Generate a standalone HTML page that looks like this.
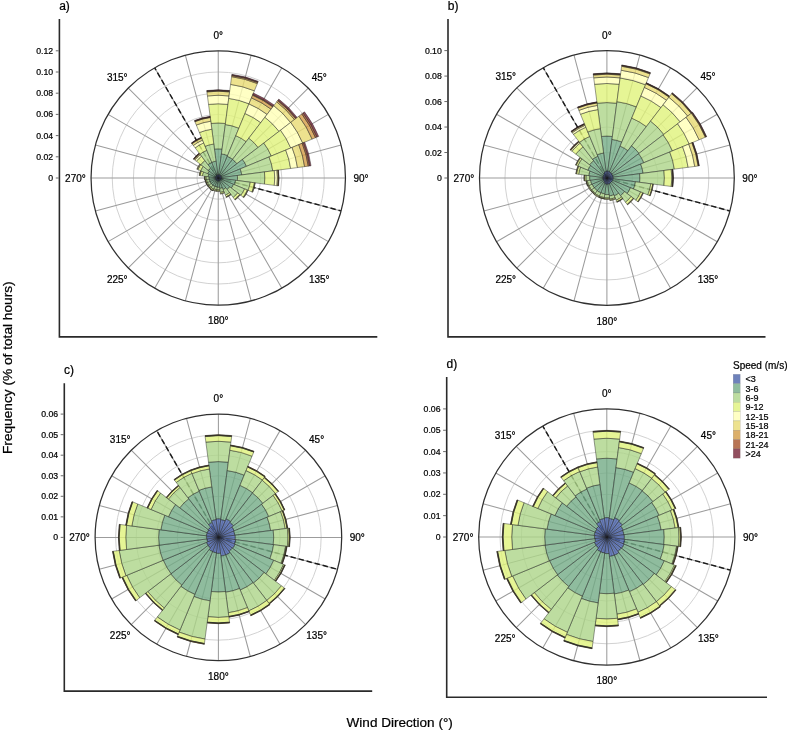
<!DOCTYPE html><html><head><meta charset="utf-8"><title>Wind roses</title>
<style>html,body{margin:0;padding:0;background:#fff}svg{display:block;will-change:transform}text{font-family:"Liberation Sans",sans-serif;fill:#000;stroke:#000;stroke-width:0.22px}</style></head><body>
<svg width="789" height="732" viewBox="0 0 789 732">
<rect width="789" height="732" fill="#fff"/>
<g>
<circle cx="218.25" cy="178.0" r="21.20" fill="none" stroke="#d2d2d2" stroke-width="1.0"/>
<circle cx="218.25" cy="178.0" r="42.40" fill="none" stroke="#d2d2d2" stroke-width="1.0"/>
<circle cx="218.25" cy="178.0" r="63.60" fill="none" stroke="#d2d2d2" stroke-width="1.0"/>
<circle cx="218.25" cy="178.0" r="84.80" fill="none" stroke="#d2d2d2" stroke-width="1.0"/>
<circle cx="218.25" cy="178.0" r="106.00" fill="none" stroke="#d2d2d2" stroke-width="1.0"/>
<path d="M218.25,178.0L218.25,50.80M218.25,178.0L251.17,55.13M218.25,178.0L281.85,67.84M218.25,178.0L308.19,88.06M218.25,178.0L328.41,114.40M218.25,178.0L341.12,145.08M218.25,178.0L345.45,178.00M218.25,178.0L341.12,210.92M218.25,178.0L328.41,241.60M218.25,178.0L308.19,267.94M218.25,178.0L281.85,288.16M218.25,178.0L251.17,300.87M218.25,178.0L218.25,305.20M218.25,178.0L185.33,300.87M218.25,178.0L154.65,288.16M218.25,178.0L128.31,267.94M218.25,178.0L108.09,241.60M218.25,178.0L95.38,210.92M218.25,178.0L91.05,178.00M218.25,178.0L95.38,145.08M218.25,178.0L108.09,114.40M218.25,178.0L128.31,88.06M218.25,178.0L154.65,67.84M218.25,178.0L185.33,55.13" stroke="#9c9c9c" stroke-width="1.05" fill="none"/>
<line x1="218.25" y1="178.0" x2="154.65" y2="67.84" stroke="#1a1a1a" stroke-width="1.45" stroke-dasharray="5.4,2.9"/>
<line x1="218.25" y1="178.0" x2="341.12" y2="210.92" stroke="#1a1a1a" stroke-width="1.45" stroke-dasharray="5.4,2.9"/>
<g stroke="#1c1c1c" stroke-opacity="0.7" stroke-width="0.62" stroke-linejoin="miter" fill-opacity="0.8">
<path d="M218.25,178.00L217.81,174.63A3.40,3.40 0 0 1 218.69,174.63Z" fill="#4a63aa"/>
<path d="M214.45,149.15A29.10,29.10 0 0 1 222.05,149.15L218.69,174.63A3.40,3.40 0 0 0 217.81,174.63Z" fill="#73ab86"/>
<path d="M211.07,123.47A55.00,55.00 0 0 1 225.43,123.47L222.05,149.15A29.10,29.10 0 0 0 214.45,149.15Z" fill="#acd488"/>
<path d="M208.56,104.43A74.20,74.20 0 0 1 227.94,104.43L225.43,123.47A55.00,55.00 0 0 0 211.07,123.47Z" fill="#e0f27a"/>
<path d="M207.45,95.96A82.75,82.75 0 0 1 229.05,95.96L227.94,104.43A74.20,74.20 0 0 0 208.56,104.43Z" fill="#ffffb5"/>
<path d="M206.92,91.94A86.80,86.80 0 0 1 229.58,91.94L229.05,95.96A82.75,82.75 0 0 0 207.45,95.96Z" fill="#e8db72"/>
<path d="M206.86,91.45A87.30,87.30 0 0 1 229.64,91.45L229.58,91.94A86.80,86.80 0 0 0 206.92,91.94Z" fill="#d39b45"/>
<path d="M206.79,90.95A87.80,87.80 0 0 1 229.71,90.95L229.64,91.45A87.30,87.30 0 0 0 206.86,91.45Z" fill="#a6522a"/>
<path d="M206.74,90.55A88.20,88.20 0 0 1 229.76,90.55L229.71,90.95A87.80,87.80 0 0 0 206.79,90.95Z" fill="#772337"/>
<path d="M218.25,178.00L218.69,174.63A3.40,3.40 0 0 1 219.55,174.86Z" fill="#4a63aa"/>
<path d="M221.42,153.91A24.30,24.30 0 0 1 227.55,155.55L219.55,174.86A3.40,3.40 0 0 0 218.69,174.63Z" fill="#73ab86"/>
<path d="M225.29,124.56A53.90,53.90 0 0 1 238.88,128.20L227.55,155.55A24.30,24.30 0 0 0 221.42,153.91Z" fill="#acd488"/>
<path d="M228.73,98.39A80.30,80.30 0 0 1 248.98,103.81L238.88,128.20A53.90,53.90 0 0 0 225.29,124.56Z" fill="#e0f27a"/>
<path d="M230.57,84.41A94.40,94.40 0 0 1 254.38,90.79L248.98,103.81A80.30,80.30 0 0 0 228.73,98.39Z" fill="#ffffb5"/>
<path d="M231.59,76.67A102.20,102.20 0 0 1 257.36,83.58L254.38,90.79A94.40,94.40 0 0 0 230.57,84.41Z" fill="#e8db72"/>
<path d="M231.73,75.58A103.30,103.30 0 0 1 257.78,82.56L257.36,83.58A102.20,102.20 0 0 0 231.59,76.67Z" fill="#d39b45"/>
<path d="M231.81,74.99A103.90,103.90 0 0 1 258.01,82.01L257.78,82.56A103.30,103.30 0 0 0 231.73,75.58Z" fill="#a6522a"/>
<path d="M231.90,74.29A104.60,104.60 0 0 1 258.28,81.36L258.01,82.01A103.90,103.90 0 0 0 231.81,74.99Z" fill="#772337"/>
<path d="M218.25,178.00L219.55,174.86A3.40,3.40 0 0 1 220.32,175.30Z" fill="#4a63aa"/>
<path d="M227.24,156.29A23.50,23.50 0 0 1 232.56,159.36L220.32,175.30A3.40,3.40 0 0 0 219.55,174.86Z" fill="#73ab86"/>
<path d="M235.78,135.69A45.80,45.80 0 0 1 246.13,141.66L232.56,159.36A23.50,23.50 0 0 0 227.24,156.29Z" fill="#acd488"/>
<path d="M244.96,113.51A69.80,69.80 0 0 1 260.74,122.62L246.13,141.66A45.80,45.80 0 0 0 235.78,135.69Z" fill="#e0f27a"/>
<path d="M248.94,103.90A80.20,80.20 0 0 1 267.07,114.37L260.74,122.62A69.80,69.80 0 0 0 244.96,113.51Z" fill="#ffffb5"/>
<path d="M251.45,97.85A86.75,86.75 0 0 1 271.06,109.18L267.07,114.37A80.20,80.20 0 0 0 248.94,103.90Z" fill="#e8db72"/>
<path d="M252.54,95.22A89.60,89.60 0 0 1 272.80,106.92L271.06,109.18A86.75,86.75 0 0 0 251.45,97.85Z" fill="#d39b45"/>
<path d="M252.84,94.48A90.40,90.40 0 0 1 273.28,106.28L272.80,106.92A89.60,89.60 0 0 0 252.54,95.22Z" fill="#a6522a"/>
<path d="M253.42,93.10A91.90,91.90 0 0 1 274.20,105.09L273.28,106.28A90.40,90.40 0 0 0 252.84,94.48Z" fill="#772337"/>
<path d="M218.25,178.00L220.32,175.30A3.40,3.40 0 0 1 220.95,175.93Z" fill="#4a63aa"/>
<path d="M232.56,159.36A23.50,23.50 0 0 1 236.89,163.69L220.95,175.93A3.40,3.40 0 0 0 220.32,175.30Z" fill="#73ab86"/>
<path d="M248.81,138.17A50.20,50.20 0 0 1 258.08,147.44L236.89,163.69A23.50,23.50 0 0 0 232.56,159.36Z" fill="#acd488"/>
<path d="M264.88,117.23A76.60,76.60 0 0 1 279.02,131.37L258.08,147.44A50.20,50.20 0 0 0 248.81,138.17Z" fill="#e0f27a"/>
<path d="M273.77,105.65A91.20,91.20 0 0 1 290.60,122.48L279.02,131.37A76.60,76.60 0 0 0 264.88,117.23Z" fill="#ffffb5"/>
<path d="M276.69,101.84A96.00,96.00 0 0 1 294.41,119.56L290.60,122.48A91.20,91.20 0 0 0 273.77,105.65Z" fill="#e8db72"/>
<path d="M277.60,100.65A97.50,97.50 0 0 1 295.60,118.65L294.41,119.56A96.00,96.00 0 0 0 276.69,101.84Z" fill="#d39b45"/>
<path d="M278.09,100.01A98.30,98.30 0 0 1 296.24,118.16L295.60,118.65A97.50,97.50 0 0 0 277.60,100.65Z" fill="#a6522a"/>
<path d="M278.82,99.06A99.50,99.50 0 0 1 297.19,117.43L296.24,118.16A98.30,98.30 0 0 0 278.09,100.01Z" fill="#772337"/>
<path d="M218.25,178.00L220.95,175.93A3.40,3.40 0 0 1 221.39,176.70Z" fill="#4a63aa"/>
<path d="M242.45,159.43A30.50,30.50 0 0 1 246.43,166.33L221.39,176.70A3.40,3.40 0 0 0 220.95,175.93Z" fill="#73ab86"/>
<path d="M263.79,143.06A57.40,57.40 0 0 1 271.28,156.03L246.43,166.33A30.50,30.50 0 0 0 242.45,159.43Z" fill="#acd488"/>
<path d="M280.53,130.21A78.50,78.50 0 0 1 290.77,147.96L271.28,156.03A57.40,57.40 0 0 0 263.79,143.06Z" fill="#e0f27a"/>
<path d="M290.76,122.36A91.40,91.40 0 0 1 302.69,143.02L290.77,147.96A78.50,78.50 0 0 0 280.53,130.21Z" fill="#ffffb5"/>
<path d="M298.85,116.15A101.60,101.60 0 0 1 312.12,139.12L302.69,143.02A91.40,91.40 0 0 0 290.76,122.36Z" fill="#e8db72"/>
<path d="M301.79,113.90A105.30,105.30 0 0 1 315.53,137.70L312.12,139.12A101.60,101.60 0 0 0 298.85,116.15Z" fill="#d39b45"/>
<path d="M303.14,112.86A107.00,107.00 0 0 1 317.11,137.05L315.53,137.70A105.30,105.30 0 0 0 301.79,113.90Z" fill="#a6522a"/>
<path d="M304.49,111.83A108.70,108.70 0 0 1 318.68,136.40L317.11,137.05A107.00,107.00 0 0 0 303.14,112.86Z" fill="#772337"/>
<path d="M218.25,178.00L221.39,176.70A3.40,3.40 0 0 1 221.62,177.56Z" fill="#4a63aa"/>
<path d="M240.15,168.93A23.70,23.70 0 0 1 241.75,174.91L221.62,177.56A3.40,3.40 0 0 0 221.39,176.70Z" fill="#73ab86"/>
<path d="M269.06,156.95A55.00,55.00 0 0 1 272.78,170.82L241.75,174.91A23.70,23.70 0 0 0 240.15,168.93Z" fill="#acd488"/>
<path d="M285.69,150.06A73.00,73.00 0 0 1 290.63,168.47L272.78,170.82A55.00,55.00 0 0 0 269.06,156.95Z" fill="#e0f27a"/>
<path d="M292.07,147.42A79.90,79.90 0 0 1 297.47,167.57L290.63,168.47A73.00,73.00 0 0 0 285.69,150.06Z" fill="#ffffb5"/>
<path d="M298.72,144.67A87.10,87.10 0 0 1 304.60,166.63L297.47,167.57A79.90,79.90 0 0 0 292.07,147.42Z" fill="#e8db72"/>
<path d="M302.14,143.25A90.80,90.80 0 0 1 308.27,166.15L304.60,166.63A87.10,87.10 0 0 0 298.72,144.67Z" fill="#d39b45"/>
<path d="M303.43,142.72A92.20,92.20 0 0 1 309.66,165.97L308.27,166.15A90.80,90.80 0 0 0 302.14,143.25Z" fill="#a6522a"/>
<path d="M304.73,142.18A93.60,93.60 0 0 1 311.05,165.78L309.66,165.97A92.20,92.20 0 0 0 303.43,142.72Z" fill="#772337"/>
<path d="M218.25,178.00L221.62,177.56A3.40,3.40 0 0 1 221.62,178.44Z" fill="#4a63aa"/>
<path d="M237.38,175.48A19.30,19.30 0 0 1 237.38,180.52L221.62,178.44A3.40,3.40 0 0 0 221.62,177.56Z" fill="#73ab86"/>
<path d="M264.45,171.92A46.60,46.60 0 0 1 264.45,184.08L237.38,180.52A19.30,19.30 0 0 0 237.38,175.48Z" fill="#acd488"/>
<path d="M274.27,170.63A56.50,56.50 0 0 1 274.27,185.37L264.45,184.08A46.60,46.60 0 0 0 264.45,171.92Z" fill="#e0f27a"/>
<path d="M276.94,170.27A59.20,59.20 0 0 1 276.94,185.73L274.27,185.37A56.50,56.50 0 0 0 274.27,170.63Z" fill="#ffffb5"/>
<path d="M277.93,170.14A60.20,60.20 0 0 1 277.93,185.86L276.94,185.73A59.20,59.20 0 0 0 276.94,170.27Z" fill="#e8db72"/>
<path d="M278.23,170.10A60.50,60.50 0 0 1 278.23,185.90L277.93,185.86A60.20,60.20 0 0 0 277.93,170.14Z" fill="#d39b45"/>
<path d="M278.53,170.06A60.80,60.80 0 0 1 278.53,185.94L278.23,185.90A60.50,60.50 0 0 0 278.23,170.10Z" fill="#a6522a"/>
<path d="M218.25,178.00L221.42,178.42A3.20,3.20 0 0 1 221.21,179.22Z" fill="#4a63aa"/>
<path d="M235.60,180.28A17.50,17.50 0 0 1 234.42,184.70L221.21,179.22A3.20,3.20 0 0 0 221.42,178.42Z" fill="#73ab86"/>
<path d="M250.27,182.22A32.30,32.30 0 0 1 248.09,190.36L234.42,184.70A17.50,17.50 0 0 0 235.60,180.28Z" fill="#acd488"/>
<path d="M254.44,182.76A36.50,36.50 0 0 1 251.97,191.97L248.09,190.36A32.30,32.30 0 0 0 250.27,182.22Z" fill="#e0f27a"/>
<path d="M254.93,182.83A37.00,37.00 0 0 1 252.43,192.16L251.97,191.97A36.50,36.50 0 0 0 254.44,182.76Z" fill="#ffffb5"/>
<path d="M255.23,182.87A37.30,37.30 0 0 1 252.71,192.27L252.43,192.16A37.00,37.00 0 0 0 254.93,182.83Z" fill="#e8db72"/>
<path d="M218.25,178.00L221.21,179.22A3.20,3.20 0 0 1 220.79,179.95Z" fill="#4a63aa"/>
<path d="M233.49,184.31A16.50,16.50 0 0 1 231.34,188.04L220.79,179.95A3.20,3.20 0 0 0 221.21,179.22Z" fill="#73ab86"/>
<path d="M244.58,188.91A28.50,28.50 0 0 1 240.86,195.35L231.34,188.04A16.50,16.50 0 0 0 233.49,184.31Z" fill="#acd488"/>
<path d="M247.35,190.05A31.50,31.50 0 0 1 243.24,197.18L240.86,195.35A28.50,28.50 0 0 0 244.58,188.91Z" fill="#e0f27a"/>
<path d="M247.81,190.25A32.00,32.00 0 0 1 243.64,197.48L243.24,197.18A31.50,31.50 0 0 0 247.35,190.05Z" fill="#ffffb5"/>
<path d="M248.09,190.36A32.30,32.30 0 0 1 243.88,197.66L243.64,197.48A32.00,32.00 0 0 0 247.81,190.25Z" fill="#e8db72"/>
<path d="M218.25,178.00L220.79,179.95A3.20,3.20 0 0 1 220.20,180.54Z" fill="#4a63aa"/>
<path d="M229.75,186.83A14.50,14.50 0 0 1 227.08,189.50L220.20,180.54A3.20,3.20 0 0 0 220.79,179.95Z" fill="#73ab86"/>
<path d="M237.69,192.91A24.50,24.50 0 0 1 233.16,197.44L227.08,189.50A14.50,14.50 0 0 0 229.75,186.83Z" fill="#acd488"/>
<path d="M239.67,194.44A27.00,27.00 0 0 1 234.69,199.42L233.16,197.44A24.50,24.50 0 0 0 237.69,192.91Z" fill="#e0f27a"/>
<path d="M240.07,194.74A27.50,27.50 0 0 1 234.99,199.82L234.69,199.42A27.00,27.00 0 0 0 239.67,194.44Z" fill="#ffffb5"/>
<path d="M240.31,194.92A27.80,27.80 0 0 1 235.17,200.06L234.99,199.82A27.50,27.50 0 0 0 240.07,194.74Z" fill="#e8db72"/>
<path d="M218.25,178.00L220.08,180.38A3.00,3.00 0 0 1 219.40,180.77Z" fill="#4a63aa"/>
<path d="M225.80,187.84A12.40,12.40 0 0 1 223.00,189.46L219.40,180.77A3.00,3.00 0 0 0 220.08,180.38Z" fill="#73ab86"/>
<path d="M229.51,192.68A18.50,18.50 0 0 1 225.33,195.09L223.00,189.46A12.40,12.40 0 0 0 225.80,187.84Z" fill="#acd488"/>
<path d="M230.61,194.11A20.30,20.30 0 0 1 226.02,196.75L225.33,195.09A18.50,18.50 0 0 0 229.51,192.68Z" fill="#e0f27a"/>
<path d="M230.85,194.42A20.70,20.70 0 0 1 226.17,197.12L226.02,196.75A20.30,20.30 0 0 0 230.61,194.11Z" fill="#ffffb5"/>
<path d="M231.03,194.66A21.00,21.00 0 0 1 226.29,197.40L226.17,197.12A20.70,20.70 0 0 0 230.85,194.42Z" fill="#e8db72"/>
<path d="M218.25,178.00L219.40,180.77A3.00,3.00 0 0 1 218.64,180.97Z" fill="#4a63aa"/>
<path d="M222.27,187.70A10.50,10.50 0 0 1 219.62,188.41L218.64,180.97A3.00,3.00 0 0 0 219.40,180.77Z" fill="#73ab86"/>
<path d="M223.80,191.40A14.50,14.50 0 0 1 220.14,192.38L219.62,188.41A10.50,10.50 0 0 0 222.27,187.70Z" fill="#acd488"/>
<path d="M224.30,192.60A15.80,15.80 0 0 1 220.31,193.66L220.14,192.38A14.50,14.50 0 0 0 223.80,191.40Z" fill="#e0f27a"/>
<path d="M224.49,193.06A16.30,16.30 0 0 1 220.38,194.16L220.31,193.66A15.80,15.80 0 0 0 224.30,192.60Z" fill="#ffffb5"/>
<path d="M218.25,178.00L218.64,180.97A3.00,3.00 0 0 1 217.86,180.97Z" fill="#4a63aa"/>
<path d="M219.46,187.22A9.30,9.30 0 0 1 217.04,187.22L217.86,180.97A3.00,3.00 0 0 0 218.64,180.97Z" fill="#73ab86"/>
<path d="M219.79,189.70A11.80,11.80 0 0 1 216.71,189.70L217.04,187.22A9.30,9.30 0 0 0 219.46,187.22Z" fill="#acd488"/>
<path d="M219.95,190.89A13.00,13.00 0 0 1 216.55,190.89L216.71,189.70A11.80,11.80 0 0 0 219.79,189.70Z" fill="#e0f27a"/>
<path d="M220.01,191.38A13.50,13.50 0 0 1 216.49,191.38L216.55,190.89A13.00,13.00 0 0 0 219.95,190.89Z" fill="#ffffb5"/>
<path d="M218.25,178.00L217.86,180.97A3.00,3.00 0 0 1 217.10,180.77Z" fill="#4a63aa"/>
<path d="M217.08,186.92A9.00,9.00 0 0 1 214.81,186.31L217.10,180.77A3.00,3.00 0 0 0 217.86,180.97Z" fill="#73ab86"/>
<path d="M216.71,189.70A11.80,11.80 0 0 1 213.73,188.90L214.81,186.31A9.00,9.00 0 0 0 217.08,186.92Z" fill="#acd488"/>
<path d="M216.55,190.89A13.00,13.00 0 0 1 213.28,190.01L213.73,188.90A11.80,11.80 0 0 0 216.71,189.70Z" fill="#e0f27a"/>
<path d="M216.49,191.38A13.50,13.50 0 0 1 213.08,190.47L213.28,190.01A13.00,13.00 0 0 0 216.55,190.89Z" fill="#ffffb5"/>
<path d="M218.25,178.00L217.10,180.77A3.00,3.00 0 0 1 216.42,180.38Z" fill="#4a63aa"/>
<path d="M214.81,186.31A9.00,9.00 0 0 1 212.77,185.14L216.42,180.38A3.00,3.00 0 0 0 217.10,180.77Z" fill="#73ab86"/>
<path d="M213.66,189.09A12.00,12.00 0 0 1 210.94,187.52L212.77,185.14A9.00,9.00 0 0 0 214.81,186.31Z" fill="#acd488"/>
<path d="M213.16,190.29A13.30,13.30 0 0 1 210.15,188.55L210.94,187.52A12.00,12.00 0 0 0 213.66,189.09Z" fill="#e0f27a"/>
<path d="M213.01,190.66A13.70,13.70 0 0 1 209.91,188.87L210.15,188.55A13.30,13.30 0 0 0 213.16,190.29Z" fill="#ffffb5"/>
<path d="M212.93,190.84A13.90,13.90 0 0 1 209.79,189.03L209.91,188.87A13.70,13.70 0 0 0 213.01,190.66Z" fill="#e8db72"/>
<path d="M218.25,178.00L216.42,180.38A3.00,3.00 0 0 1 215.87,179.83Z" fill="#4a63aa"/>
<path d="M212.77,185.14A9.00,9.00 0 0 1 211.11,183.48L215.87,179.83A3.00,3.00 0 0 0 216.42,180.38Z" fill="#73ab86"/>
<path d="M211.07,187.36A11.80,11.80 0 0 1 208.89,185.18L211.11,183.48A9.00,9.00 0 0 0 212.77,185.14Z" fill="#acd488"/>
<path d="M210.46,188.15A12.80,12.80 0 0 1 208.10,185.79L208.89,185.18A11.80,11.80 0 0 0 211.07,187.36Z" fill="#e0f27a"/>
<path d="M210.28,188.39A13.10,13.10 0 0 1 207.86,185.97L208.10,185.79A12.80,12.80 0 0 0 210.46,188.15Z" fill="#ffffb5"/>
<path d="M210.15,188.55A13.30,13.30 0 0 1 207.70,186.10L207.86,185.97A13.10,13.10 0 0 0 210.28,188.39Z" fill="#e8db72"/>
<path d="M218.25,178.00L215.87,179.83A3.00,3.00 0 0 1 215.48,179.15Z" fill="#4a63aa"/>
<path d="M211.11,183.48A9.00,9.00 0 0 1 209.94,181.44L215.48,179.15A3.00,3.00 0 0 0 215.87,179.83Z" fill="#73ab86"/>
<path d="M208.89,185.18A11.80,11.80 0 0 1 207.35,182.52L209.94,181.44A9.00,9.00 0 0 0 211.11,183.48Z" fill="#acd488"/>
<path d="M208.10,185.79A12.80,12.80 0 0 1 206.42,182.90L207.35,182.52A11.80,11.80 0 0 0 208.89,185.18Z" fill="#e0f27a"/>
<path d="M207.86,185.97A13.10,13.10 0 0 1 206.15,183.01L206.42,182.90A12.80,12.80 0 0 0 208.10,185.79Z" fill="#ffffb5"/>
<path d="M207.70,186.10A13.30,13.30 0 0 1 205.96,183.09L206.15,183.01A13.10,13.10 0 0 0 207.86,185.97Z" fill="#e8db72"/>
<path d="M218.25,178.00L215.48,179.15A3.00,3.00 0 0 1 215.28,178.39Z" fill="#4a63aa"/>
<path d="M209.94,181.44A9.00,9.00 0 0 1 209.33,179.17L215.28,178.39A3.00,3.00 0 0 0 215.48,179.15Z" fill="#73ab86"/>
<path d="M207.35,182.52A11.80,11.80 0 0 1 206.55,179.54L209.33,179.17A9.00,9.00 0 0 0 209.94,181.44Z" fill="#acd488"/>
<path d="M206.42,182.90A12.80,12.80 0 0 1 205.56,179.67L206.55,179.54A11.80,11.80 0 0 0 207.35,182.52Z" fill="#e0f27a"/>
<path d="M206.15,183.01A13.10,13.10 0 0 1 205.26,179.71L205.56,179.67A12.80,12.80 0 0 0 206.42,182.90Z" fill="#ffffb5"/>
<path d="M205.96,183.09A13.30,13.30 0 0 1 205.06,179.74L205.26,179.71A13.10,13.10 0 0 0 206.15,183.01Z" fill="#e8db72"/>
<path d="M218.25,178.00L215.28,178.39A3.00,3.00 0 0 1 215.28,177.61Z" fill="#4a63aa"/>
<path d="M209.03,179.21A9.30,9.30 0 0 1 209.03,176.79L215.28,177.61A3.00,3.00 0 0 0 215.28,178.39Z" fill="#73ab86"/>
<path d="M206.15,179.59A12.20,12.20 0 0 1 206.15,176.41L209.03,176.79A9.30,9.30 0 0 0 209.03,179.21Z" fill="#acd488"/>
<path d="M205.06,179.74A13.30,13.30 0 0 1 205.06,176.26L206.15,176.41A12.20,12.20 0 0 0 206.15,179.59Z" fill="#e0f27a"/>
<path d="M204.67,179.79A13.70,13.70 0 0 1 204.67,176.21L205.06,176.26A13.30,13.30 0 0 0 205.06,179.74Z" fill="#ffffb5"/>
<path d="M204.47,179.81A13.90,13.90 0 0 1 204.47,176.19L204.67,176.21A13.70,13.70 0 0 0 204.67,179.79Z" fill="#e8db72"/>
<path d="M218.25,178.00L215.28,177.61A3.00,3.00 0 0 1 215.48,176.85Z" fill="#4a63aa"/>
<path d="M208.14,176.67A10.20,10.20 0 0 1 208.83,174.10L215.48,176.85A3.00,3.00 0 0 0 215.28,177.61Z" fill="#73ab86"/>
<path d="M202.39,175.91A16.00,16.00 0 0 1 203.47,171.88L208.83,174.10A10.20,10.20 0 0 0 208.14,176.67Z" fill="#acd488"/>
<path d="M200.11,175.61A18.30,18.30 0 0 1 201.34,171.00L203.47,171.88A16.00,16.00 0 0 0 202.39,175.91Z" fill="#e0f27a"/>
<path d="M199.51,175.53A18.90,18.90 0 0 1 200.79,170.77L201.34,171.00A18.30,18.30 0 0 0 200.11,175.61Z" fill="#ffffb5"/>
<path d="M199.12,175.48A19.30,19.30 0 0 1 200.42,170.61L200.79,170.77A18.90,18.90 0 0 0 199.51,175.53Z" fill="#e8db72"/>
<path d="M218.25,178.00L215.48,176.85A3.00,3.00 0 0 1 215.87,176.17Z" fill="#4a63aa"/>
<path d="M207.72,173.64A11.40,11.40 0 0 1 209.21,171.06L215.87,176.17A3.00,3.00 0 0 0 215.48,176.85Z" fill="#73ab86"/>
<path d="M200.70,170.73A19.00,19.00 0 0 1 203.18,166.43L209.21,171.06A11.40,11.40 0 0 0 207.72,173.64Z" fill="#acd488"/>
<path d="M197.92,169.58A22.00,22.00 0 0 1 200.80,164.61L203.18,166.43A19.00,19.00 0 0 0 200.70,170.73Z" fill="#e0f27a"/>
<path d="M197.19,169.27A22.80,22.80 0 0 1 200.16,164.12L200.80,164.61A22.00,22.00 0 0 0 197.92,169.58Z" fill="#ffffb5"/>
<path d="M196.82,169.12A23.20,23.20 0 0 1 199.84,163.88L200.16,164.12A22.80,22.80 0 0 0 197.19,169.27Z" fill="#e8db72"/>
<path d="M218.25,178.00L215.71,176.05A3.20,3.20 0 0 1 216.30,175.46Z" fill="#4a63aa"/>
<path d="M208.25,170.33A12.60,12.60 0 0 1 210.58,168.00L216.30,175.46A3.20,3.20 0 0 0 215.71,176.05Z" fill="#73ab86"/>
<path d="M200.80,164.61A22.00,22.00 0 0 1 204.86,160.55L210.58,168.00A12.60,12.60 0 0 0 208.25,170.33Z" fill="#acd488"/>
<path d="M196.43,161.26A27.50,27.50 0 0 1 201.51,156.18L204.86,160.55A22.00,22.00 0 0 0 200.80,164.61Z" fill="#e0f27a"/>
<path d="M194.85,160.04A29.50,29.50 0 0 1 200.29,154.60L201.51,156.18A27.50,27.50 0 0 0 196.43,161.26Z" fill="#ffffb5"/>
<path d="M194.13,159.49A30.40,30.40 0 0 1 199.74,153.88L200.29,154.60A29.50,29.50 0 0 0 194.85,160.04Z" fill="#e8db72"/>
<path d="M193.81,159.25A30.80,30.80 0 0 1 199.50,153.56L199.74,153.88A30.40,30.40 0 0 0 194.13,159.49Z" fill="#d39b45"/>
<path d="M193.58,159.07A31.10,31.10 0 0 1 199.32,153.33L199.50,153.56A30.80,30.80 0 0 0 193.81,159.25Z" fill="#a6522a"/>
<path d="M193.34,158.88A31.40,31.40 0 0 1 199.13,153.09L199.32,153.33A31.10,31.10 0 0 0 193.58,159.07Z" fill="#772337"/>
<path d="M218.25,178.00L216.30,175.46A3.20,3.20 0 0 1 217.03,175.04Z" fill="#4a63aa"/>
<path d="M208.02,164.67A16.80,16.80 0 0 1 211.82,162.48L217.03,175.04A3.20,3.20 0 0 0 216.30,175.46Z" fill="#73ab86"/>
<path d="M199.99,154.20A30.00,30.00 0 0 1 206.77,150.28L211.82,162.48A16.80,16.80 0 0 0 208.02,164.67Z" fill="#acd488"/>
<path d="M195.12,147.85A38.00,38.00 0 0 1 203.71,142.89L206.77,150.28A30.00,30.00 0 0 0 199.99,154.20Z" fill="#e0f27a"/>
<path d="M193.29,145.47A41.00,41.00 0 0 1 202.56,140.12L203.71,142.89A38.00,38.00 0 0 0 195.12,147.85Z" fill="#ffffb5"/>
<path d="M191.95,143.73A43.20,43.20 0 0 1 201.72,138.09L202.56,140.12A41.00,41.00 0 0 0 193.29,145.47Z" fill="#e8db72"/>
<path d="M191.71,143.41A43.60,43.60 0 0 1 201.57,137.72L201.72,138.09A43.20,43.20 0 0 0 191.95,143.73Z" fill="#d39b45"/>
<path d="M191.53,143.17A43.90,43.90 0 0 1 201.45,137.44L201.57,137.72A43.60,43.60 0 0 0 191.71,143.41Z" fill="#a6522a"/>
<path d="M191.34,142.93A44.20,44.20 0 0 1 201.34,137.16L201.45,137.44A43.90,43.90 0 0 0 191.53,143.17Z" fill="#772337"/>
<path d="M218.25,178.00L216.95,174.86A3.40,3.40 0 0 1 217.81,174.63Z" fill="#4a63aa"/>
<path d="M211.74,162.29A17.00,17.00 0 0 1 216.03,161.15L217.81,174.63A3.40,3.40 0 0 0 216.95,174.86Z" fill="#73ab86"/>
<path d="M205.12,146.31A34.30,34.30 0 0 1 213.77,143.99L216.03,161.15A17.00,17.00 0 0 0 211.74,162.29Z" fill="#acd488"/>
<path d="M199.42,132.55A49.20,49.20 0 0 1 211.83,129.22L213.77,143.99A34.30,34.30 0 0 0 205.12,146.31Z" fill="#e0f27a"/>
<path d="M196.32,125.06A57.30,57.30 0 0 1 210.77,121.19L211.83,129.22A49.20,49.20 0 0 0 199.42,132.55Z" fill="#ffffb5"/>
<path d="M194.91,121.64A61.00,61.00 0 0 1 210.29,117.52L210.77,121.19A57.30,57.30 0 0 0 196.32,125.06Z" fill="#e8db72"/>
<path d="M194.75,121.27A61.40,61.40 0 0 1 210.24,117.13L210.29,117.52A61.00,61.00 0 0 0 194.91,121.64Z" fill="#d39b45"/>
<path d="M194.60,120.90A61.80,61.80 0 0 1 210.18,116.73L210.24,117.13A61.40,61.40 0 0 0 194.75,121.27Z" fill="#a6522a"/>
<path d="M194.45,120.53A62.20,62.20 0 0 1 210.13,116.33L210.18,116.73A61.80,61.80 0 0 0 194.60,120.90Z" fill="#772337"/>
</g>
<circle cx="218.25" cy="178.0" r="127.2" fill="none" stroke="#303030" stroke-width="1.25"/>
<text x="218.25" y="38.80" font-size="10" text-anchor="middle">0°</text>
<text x="319.22" y="80.63" font-size="10" text-anchor="middle">45°</text>
<text x="361.05" y="181.60" font-size="10" text-anchor="middle">90°</text>
<text x="319.22" y="282.57" font-size="10" text-anchor="middle">135°</text>
<text x="218.25" y="324.40" font-size="10" text-anchor="middle">180°</text>
<text x="117.28" y="282.57" font-size="10" text-anchor="middle">225°</text>
<text x="75.45" y="181.60" font-size="10" text-anchor="middle">270°</text>
<text x="117.28" y="80.63" font-size="10" text-anchor="middle">315°</text>
<path d="M59.4,19.1V336.9H377.3" fill="none" stroke="#2a2a2a" stroke-width="1.6" stroke-linejoin="miter"/>
<line x1="55.8" y1="178.00" x2="58.6" y2="178.00" stroke="#444" stroke-width="0.8"/>
<text x="53.199999999999996" y="181.00" font-size="8.7" text-anchor="end">0</text>
<line x1="55.8" y1="156.80" x2="58.6" y2="156.80" stroke="#444" stroke-width="0.8"/>
<text x="53.199999999999996" y="159.80" font-size="8.7" text-anchor="end">0.02</text>
<line x1="55.8" y1="135.60" x2="58.6" y2="135.60" stroke="#444" stroke-width="0.8"/>
<text x="53.199999999999996" y="138.60" font-size="8.7" text-anchor="end">0.04</text>
<line x1="55.8" y1="114.40" x2="58.6" y2="114.40" stroke="#444" stroke-width="0.8"/>
<text x="53.199999999999996" y="117.40" font-size="8.7" text-anchor="end">0.06</text>
<line x1="55.8" y1="93.20" x2="58.6" y2="93.20" stroke="#444" stroke-width="0.8"/>
<text x="53.199999999999996" y="96.20" font-size="8.7" text-anchor="end">0.08</text>
<line x1="55.8" y1="72.00" x2="58.6" y2="72.00" stroke="#444" stroke-width="0.8"/>
<text x="53.199999999999996" y="75.00" font-size="8.7" text-anchor="end">0.10</text>
<line x1="55.8" y1="50.80" x2="58.6" y2="50.80" stroke="#444" stroke-width="0.8"/>
<text x="53.199999999999996" y="53.80" font-size="8.7" text-anchor="end">0.12</text>
<text x="59.2" y="10.3" font-size="12">a)</text>
</g>
<g>
<circle cx="606.9" cy="178.0" r="25.48" fill="none" stroke="#d2d2d2" stroke-width="1.0"/>
<circle cx="606.9" cy="178.0" r="50.96" fill="none" stroke="#d2d2d2" stroke-width="1.0"/>
<circle cx="606.9" cy="178.0" r="76.44" fill="none" stroke="#d2d2d2" stroke-width="1.0"/>
<circle cx="606.9" cy="178.0" r="101.92" fill="none" stroke="#d2d2d2" stroke-width="1.0"/>
<path d="M606.9,178.0L606.90,50.60M606.9,178.0L639.87,54.94M606.9,178.0L670.60,67.67M606.9,178.0L696.99,87.91M606.9,178.0L717.23,114.30M606.9,178.0L729.96,145.03M606.9,178.0L734.30,178.00M606.9,178.0L729.96,210.97M606.9,178.0L717.23,241.70M606.9,178.0L696.99,268.09M606.9,178.0L670.60,288.33M606.9,178.0L639.87,301.06M606.9,178.0L606.90,305.40M606.9,178.0L573.93,301.06M606.9,178.0L543.20,288.33M606.9,178.0L516.81,268.09M606.9,178.0L496.57,241.70M606.9,178.0L483.84,210.97M606.9,178.0L479.50,178.00M606.9,178.0L483.84,145.03M606.9,178.0L496.57,114.30M606.9,178.0L516.81,87.91M606.9,178.0L543.20,67.67M606.9,178.0L573.93,54.94" stroke="#9c9c9c" stroke-width="1.05" fill="none"/>
<line x1="606.9" y1="178.0" x2="543.20" y2="67.67" stroke="#1a1a1a" stroke-width="1.45" stroke-dasharray="5.4,2.9"/>
<line x1="606.9" y1="178.0" x2="729.96" y2="210.97" stroke="#1a1a1a" stroke-width="1.45" stroke-dasharray="5.4,2.9"/>
<g stroke="#1c1c1c" stroke-opacity="0.7" stroke-width="0.62" stroke-linejoin="miter" fill-opacity="0.8">
<path d="M606.90,178.00L605.99,171.06A7.00,7.00 0 0 1 607.81,171.06Z" fill="#4a63aa"/>
<path d="M601.43,136.46A41.90,41.90 0 0 1 612.37,136.46L607.81,171.06A7.00,7.00 0 0 0 605.99,171.06Z" fill="#73ab86"/>
<path d="M597.06,103.25A75.40,75.40 0 0 1 616.74,103.25L612.37,136.46A41.90,41.90 0 0 0 601.43,136.46Z" fill="#acd488"/>
<path d="M594.57,84.31A94.50,94.50 0 0 1 619.23,84.31L616.74,103.25A75.40,75.40 0 0 0 597.06,103.25Z" fill="#e0f27a"/>
<path d="M593.72,77.86A101.00,101.00 0 0 1 620.08,77.86L619.23,84.31A94.50,94.50 0 0 0 594.57,84.31Z" fill="#ffffb5"/>
<path d="M593.35,75.09A103.80,103.80 0 0 1 620.45,75.09L620.08,77.86A101.00,101.00 0 0 0 593.72,77.86Z" fill="#e8db72"/>
<path d="M593.27,74.49A104.40,104.40 0 0 1 620.53,74.49L620.45,75.09A103.80,103.80 0 0 0 593.35,75.09Z" fill="#d39b45"/>
<path d="M593.22,74.10A104.80,104.80 0 0 1 620.58,74.10L620.53,74.49A104.40,104.40 0 0 0 593.27,74.49Z" fill="#a6522a"/>
<path d="M593.18,73.80A105.10,105.10 0 0 1 620.62,73.80L620.58,74.10A104.80,104.80 0 0 0 593.22,74.10Z" fill="#772337"/>
<path d="M606.90,178.00L607.81,171.06A7.00,7.00 0 0 1 609.58,171.53Z" fill="#4a63aa"/>
<path d="M611.98,139.43A38.90,38.90 0 0 1 621.79,142.06L609.58,171.53A7.00,7.00 0 0 0 607.81,171.06Z" fill="#73ab86"/>
<path d="M616.95,101.66A77.00,77.00 0 0 1 636.37,106.86L621.79,142.06A38.90,38.90 0 0 0 611.98,139.43Z" fill="#acd488"/>
<path d="M620.07,77.96A100.90,100.90 0 0 1 645.51,84.78L636.37,106.86A77.00,77.00 0 0 0 616.95,101.66Z" fill="#e0f27a"/>
<path d="M621.09,70.23A108.70,108.70 0 0 1 648.50,77.57L645.51,84.78A100.90,100.90 0 0 0 620.07,77.96Z" fill="#ffffb5"/>
<path d="M621.61,66.26A112.70,112.70 0 0 1 650.03,73.88L648.50,77.57A108.70,108.70 0 0 0 621.09,70.23Z" fill="#e8db72"/>
<path d="M621.69,65.67A113.30,113.30 0 0 1 650.26,73.32L650.03,73.88A112.70,112.70 0 0 0 621.61,66.26Z" fill="#d39b45"/>
<path d="M621.74,65.27A113.70,113.70 0 0 1 650.41,72.95L650.26,73.32A113.30,113.30 0 0 0 621.69,65.67Z" fill="#a6522a"/>
<path d="M621.78,64.98A114.00,114.00 0 0 1 650.53,72.68L650.41,72.95A113.70,113.70 0 0 0 621.74,65.27Z" fill="#772337"/>
<path d="M606.90,178.00L609.39,171.99A6.50,6.50 0 0 1 610.86,172.84Z" fill="#4a63aa"/>
<path d="M620.10,146.13A34.50,34.50 0 0 1 627.90,150.63L610.86,172.84A6.50,6.50 0 0 0 609.39,171.99Z" fill="#73ab86"/>
<path d="M631.70,118.13A64.80,64.80 0 0 1 646.35,126.59L627.90,150.63A34.50,34.50 0 0 0 620.10,146.13Z" fill="#acd488"/>
<path d="M640.88,95.96A88.80,88.80 0 0 1 660.96,107.55L646.35,126.59A64.80,64.80 0 0 0 631.70,118.13Z" fill="#e0f27a"/>
<path d="M644.40,87.46A98.00,98.00 0 0 1 666.56,100.25L660.96,107.55A88.80,88.80 0 0 0 640.88,95.96Z" fill="#ffffb5"/>
<path d="M645.93,83.76A102.00,102.00 0 0 1 668.99,97.08L666.56,100.25A98.00,98.00 0 0 0 644.40,87.46Z" fill="#e8db72"/>
<path d="M646.13,83.30A102.50,102.50 0 0 1 669.30,96.68L668.99,97.08A102.00,102.00 0 0 0 645.93,83.76Z" fill="#d39b45"/>
<path d="M646.28,82.93A102.90,102.90 0 0 1 669.54,96.36L669.30,96.68A102.50,102.50 0 0 0 646.13,83.30Z" fill="#a6522a"/>
<path d="M646.39,82.66A103.20,103.20 0 0 1 669.72,96.13L669.54,96.36A102.90,102.90 0 0 0 646.28,82.93Z" fill="#772337"/>
<path d="M606.90,178.00L610.86,172.84A6.50,6.50 0 0 1 612.06,174.04Z" fill="#4a63aa"/>
<path d="M631.55,145.87A40.50,40.50 0 0 1 639.03,153.35L612.06,174.04A6.50,6.50 0 0 0 610.86,172.84Z" fill="#73ab86"/>
<path d="M650.55,121.12A71.70,71.70 0 0 1 663.78,134.35L639.03,153.35A40.50,40.50 0 0 0 631.55,145.87Z" fill="#acd488"/>
<path d="M663.09,104.77A92.30,92.30 0 0 1 680.13,121.81L663.78,134.35A71.70,71.70 0 0 0 650.55,121.12Z" fill="#e0f27a"/>
<path d="M668.87,97.24A101.80,101.80 0 0 1 687.66,116.03L680.13,121.81A92.30,92.30 0 0 0 663.09,104.77Z" fill="#ffffb5"/>
<path d="M671.55,93.75A106.20,106.20 0 0 1 691.15,113.35L687.66,116.03A101.80,101.80 0 0 0 668.87,97.24Z" fill="#e8db72"/>
<path d="M671.85,93.35A106.70,106.70 0 0 1 691.55,113.05L691.15,113.35A106.20,106.20 0 0 0 671.55,93.75Z" fill="#d39b45"/>
<path d="M672.10,93.03A107.10,107.10 0 0 1 691.87,112.80L691.55,113.05A106.70,106.70 0 0 0 671.85,93.35Z" fill="#a6522a"/>
<path d="M672.34,92.71A107.50,107.50 0 0 1 692.19,112.56L691.87,112.80A107.10,107.10 0 0 0 672.10,93.03Z" fill="#772337"/>
<path d="M606.90,178.00L611.90,174.16A6.30,6.30 0 0 1 612.72,175.59Z" fill="#4a63aa"/>
<path d="M638.63,153.65A40.00,40.00 0 0 1 643.86,162.69L612.72,175.59A6.30,6.30 0 0 0 611.90,174.16Z" fill="#73ab86"/>
<path d="M663.15,134.84A70.90,70.90 0 0 1 672.40,150.87L643.86,162.69A40.00,40.00 0 0 0 638.63,153.65Z" fill="#acd488"/>
<path d="M677.59,123.76A89.10,89.10 0 0 1 689.22,143.90L672.40,150.87A70.90,70.90 0 0 0 663.15,134.84Z" fill="#e0f27a"/>
<path d="M686.08,117.25A99.80,99.80 0 0 1 699.10,139.81L689.22,143.90A89.10,89.10 0 0 0 677.59,123.76Z" fill="#ffffb5"/>
<path d="M691.39,113.17A106.50,106.50 0 0 1 705.29,137.24L699.10,139.81A99.80,99.80 0 0 0 686.08,117.25Z" fill="#e8db72"/>
<path d="M691.87,112.80A107.10,107.10 0 0 1 705.85,137.01L705.29,137.24A106.50,106.50 0 0 0 691.39,113.17Z" fill="#d39b45"/>
<path d="M692.26,112.50A107.60,107.60 0 0 1 706.31,136.82L705.85,137.01A107.10,107.10 0 0 0 691.87,112.80Z" fill="#a6522a"/>
<path d="M692.58,112.25A108.00,108.00 0 0 1 706.68,136.67L706.31,136.82A107.60,107.60 0 0 0 692.26,112.50Z" fill="#772337"/>
<path d="M606.90,178.00L612.72,175.59A6.30,6.30 0 0 1 613.15,177.18Z" fill="#4a63aa"/>
<path d="M640.62,164.03A36.50,36.50 0 0 1 643.09,173.24L613.15,177.18A6.30,6.30 0 0 0 612.72,175.59Z" fill="#73ab86"/>
<path d="M669.72,151.98A68.00,68.00 0 0 1 674.32,169.12L643.09,173.24A36.50,36.50 0 0 0 640.62,164.03Z" fill="#acd488"/>
<path d="M682.57,146.66A81.90,81.90 0 0 1 688.10,167.31L674.32,169.12A68.00,68.00 0 0 0 669.72,151.98Z" fill="#e0f27a"/>
<path d="M688.76,144.09A88.60,88.60 0 0 1 694.74,166.44L688.10,167.31A81.90,81.90 0 0 0 682.57,146.66Z" fill="#ffffb5"/>
<path d="M691.90,142.79A92.00,92.00 0 0 1 698.11,165.99L694.74,166.44A88.60,88.60 0 0 0 688.76,144.09Z" fill="#e8db72"/>
<path d="M692.36,142.60A92.50,92.50 0 0 1 698.61,165.93L698.11,165.99A92.00,92.00 0 0 0 691.90,142.79Z" fill="#d39b45"/>
<path d="M692.73,142.45A92.90,92.90 0 0 1 699.01,165.87L698.61,165.93A92.50,92.50 0 0 0 692.36,142.60Z" fill="#a6522a"/>
<path d="M693.01,142.33A93.20,93.20 0 0 1 699.30,165.83L699.01,165.87A92.90,92.90 0 0 0 692.73,142.45Z" fill="#772337"/>
<path d="M606.90,178.00L613.15,177.18A6.30,6.30 0 0 1 613.15,178.82Z" fill="#4a63aa"/>
<path d="M639.62,173.69A33.00,33.00 0 0 1 639.62,182.31L613.15,178.82A6.30,6.30 0 0 0 613.15,177.18Z" fill="#73ab86"/>
<path d="M663.91,170.49A57.50,57.50 0 0 1 663.91,185.51L639.62,182.31A33.00,33.00 0 0 0 639.62,173.69Z" fill="#acd488"/>
<path d="M671.24,169.53A64.90,64.90 0 0 1 671.24,186.47L663.91,185.51A57.50,57.50 0 0 0 663.91,170.49Z" fill="#e0f27a"/>
<path d="M672.04,169.42A65.70,65.70 0 0 1 672.04,186.58L671.24,186.47A64.90,64.90 0 0 0 671.24,169.53Z" fill="#ffffb5"/>
<path d="M672.43,169.37A66.10,66.10 0 0 1 672.43,186.63L672.04,186.58A65.70,65.70 0 0 0 672.04,169.42Z" fill="#e8db72"/>
<path d="M672.63,169.35A66.30,66.30 0 0 1 672.63,186.65L672.43,186.63A66.10,66.10 0 0 0 672.43,169.37Z" fill="#d39b45"/>
<path d="M672.83,169.32A66.50,66.50 0 0 1 672.83,186.68L672.63,186.65A66.30,66.30 0 0 0 672.63,169.35Z" fill="#772337"/>
<path d="M606.90,178.00L613.15,178.82A6.30,6.30 0 0 1 612.72,180.41Z" fill="#4a63aa"/>
<path d="M635.45,181.76A28.80,28.80 0 0 1 633.51,189.02L612.72,180.41A6.30,6.30 0 0 0 613.15,178.82Z" fill="#73ab86"/>
<path d="M650.82,183.78A44.30,44.30 0 0 1 647.83,194.95L633.51,189.02A28.80,28.80 0 0 0 635.45,181.76Z" fill="#acd488"/>
<path d="M652.80,184.04A46.30,46.30 0 0 1 649.68,195.72L647.83,194.95A44.30,44.30 0 0 0 650.82,183.78Z" fill="#e0f27a"/>
<path d="M653.10,184.08A46.60,46.60 0 0 1 649.95,195.83L649.68,195.72A46.30,46.30 0 0 0 652.80,184.04Z" fill="#ffffb5"/>
<path d="M653.40,184.12A46.90,46.90 0 0 1 650.23,195.95L649.95,195.83A46.60,46.60 0 0 0 653.10,184.08Z" fill="#e8db72"/>
<path d="M606.90,178.00L612.44,180.30A6.00,6.00 0 0 1 611.66,181.65Z" fill="#4a63aa"/>
<path d="M630.46,187.76A25.50,25.50 0 0 1 627.13,193.52L611.66,181.65A6.00,6.00 0 0 0 612.44,180.30Z" fill="#73ab86"/>
<path d="M640.62,191.97A36.50,36.50 0 0 1 635.86,200.22L627.13,193.52A25.50,25.50 0 0 0 630.46,187.76Z" fill="#acd488"/>
<path d="M642.75,192.85A38.80,38.80 0 0 1 637.68,201.62L635.86,200.22A36.50,36.50 0 0 0 640.62,191.97Z" fill="#e0f27a"/>
<path d="M643.12,193.00A39.20,39.20 0 0 1 638.00,201.86L637.68,201.62A38.80,38.80 0 0 0 642.75,192.85Z" fill="#ffffb5"/>
<path d="M643.39,193.12A39.50,39.50 0 0 1 638.24,202.05L638.00,201.86A39.20,39.20 0 0 0 643.12,193.00Z" fill="#e8db72"/>
<path d="M606.90,178.00L611.66,181.65A6.00,6.00 0 0 1 610.55,182.76Z" fill="#4a63aa"/>
<path d="M624.59,191.58A22.30,22.30 0 0 1 620.48,195.69L610.55,182.76A6.00,6.00 0 0 0 611.66,181.65Z" fill="#73ab86"/>
<path d="M631.10,196.57A30.50,30.50 0 0 1 625.47,202.20L620.48,195.69A22.30,22.30 0 0 0 624.59,191.58Z" fill="#acd488"/>
<path d="M633.24,198.21A33.20,33.20 0 0 1 627.11,204.34L625.47,202.20A30.50,30.50 0 0 0 631.10,196.57Z" fill="#e0f27a"/>
<path d="M633.56,198.45A33.60,33.60 0 0 1 627.35,204.66L627.11,204.34A33.20,33.20 0 0 0 633.24,198.21Z" fill="#ffffb5"/>
<path d="M633.79,198.64A33.90,33.90 0 0 1 627.54,204.89L627.35,204.66A33.60,33.60 0 0 0 633.56,198.45Z" fill="#e8db72"/>
<path d="M606.90,178.00L610.55,182.76A6.00,6.00 0 0 1 609.20,183.54Z" fill="#4a63aa"/>
<path d="M618.65,193.31A19.30,19.30 0 0 1 614.29,195.83L609.20,183.54A6.00,6.00 0 0 0 610.55,182.76Z" fill="#73ab86"/>
<path d="M621.51,197.04A24.00,24.00 0 0 1 616.08,200.17L614.29,195.83A19.30,19.30 0 0 0 618.65,193.31Z" fill="#acd488"/>
<path d="M622.55,198.39A25.70,25.70 0 0 1 616.73,201.74L616.08,200.17A24.00,24.00 0 0 0 621.51,197.04Z" fill="#e0f27a"/>
<path d="M622.73,198.63A26.00,26.00 0 0 1 616.85,202.02L616.73,201.74A25.70,25.70 0 0 0 622.55,198.39Z" fill="#ffffb5"/>
<path d="M622.91,198.87A26.30,26.30 0 0 1 616.96,202.30L616.85,202.02A26.00,26.00 0 0 0 622.73,198.63Z" fill="#e8db72"/>
<path d="M606.90,178.00L609.27,183.73A6.20,6.20 0 0 1 607.71,184.15Z" fill="#4a63aa"/>
<path d="M613.83,194.72A18.10,18.10 0 0 1 609.26,195.95L607.71,184.15A6.20,6.20 0 0 0 609.27,183.73Z" fill="#73ab86"/>
<path d="M615.05,197.68A21.30,21.30 0 0 1 609.68,199.12L609.26,195.95A18.10,18.10 0 0 0 613.83,194.72Z" fill="#acd488"/>
<path d="M615.47,198.69A22.40,22.40 0 0 1 609.82,200.21L609.68,199.12A21.30,21.30 0 0 0 615.05,197.68Z" fill="#e0f27a"/>
<path d="M615.66,199.16A22.90,22.90 0 0 1 609.89,200.70L609.82,200.21A22.40,22.40 0 0 0 615.47,198.69Z" fill="#ffffb5"/>
<path d="M606.90,178.00L607.71,184.15A6.20,6.20 0 0 1 606.09,184.15Z" fill="#4a63aa"/>
<path d="M609.07,194.46A16.60,16.60 0 0 1 604.73,194.46L606.09,184.15A6.20,6.20 0 0 0 607.71,184.15Z" fill="#73ab86"/>
<path d="M609.51,197.83A20.00,20.00 0 0 1 604.29,197.83L604.73,194.46A16.60,16.60 0 0 0 609.07,194.46Z" fill="#acd488"/>
<path d="M609.64,198.82A21.00,21.00 0 0 1 604.16,198.82L604.29,197.83A20.00,20.00 0 0 0 609.51,197.83Z" fill="#e0f27a"/>
<path d="M609.71,199.32A21.50,21.50 0 0 1 604.09,199.32L604.16,198.82A21.00,21.00 0 0 0 609.64,198.82Z" fill="#ffffb5"/>
<path d="M606.90,178.00L606.12,183.95A6.00,6.00 0 0 1 604.60,183.54Z" fill="#4a63aa"/>
<path d="M604.81,193.86A16.00,16.00 0 0 1 600.78,192.78L604.60,183.54A6.00,6.00 0 0 0 606.12,183.95Z" fill="#73ab86"/>
<path d="M604.33,197.53A19.70,19.70 0 0 1 599.36,196.20L600.78,192.78A16.00,16.00 0 0 0 604.81,193.86Z" fill="#acd488"/>
<path d="M604.21,198.42A20.60,20.60 0 0 1 599.02,197.03L599.36,196.20A19.70,19.70 0 0 0 604.33,197.53Z" fill="#e0f27a"/>
<path d="M604.17,198.72A20.90,20.90 0 0 1 598.90,197.31L599.02,197.03A20.60,20.60 0 0 0 604.21,198.42Z" fill="#ffffb5"/>
<path d="M604.15,198.92A21.10,21.10 0 0 1 598.83,197.49L598.90,197.31A20.90,20.90 0 0 0 604.17,198.72Z" fill="#e8db72"/>
<path d="M606.90,178.00L604.99,182.62A5.00,5.00 0 0 1 603.86,181.97Z" fill="#4a63aa"/>
<path d="M600.78,192.78A16.00,16.00 0 0 1 597.16,190.69L603.86,181.97A5.00,5.00 0 0 0 604.99,182.62Z" fill="#73ab86"/>
<path d="M599.40,196.11A19.60,19.60 0 0 1 594.97,193.55L597.16,190.69A16.00,16.00 0 0 0 600.78,192.78Z" fill="#acd488"/>
<path d="M599.05,196.94A20.50,20.50 0 0 1 594.42,194.26L594.97,193.55A19.60,19.60 0 0 0 599.40,196.11Z" fill="#e0f27a"/>
<path d="M598.86,197.40A21.00,21.00 0 0 1 594.12,194.66L594.42,194.26A20.50,20.50 0 0 0 599.05,196.94Z" fill="#ffffb5"/>
<path d="M606.90,178.00L604.16,181.57A4.50,4.50 0 0 1 603.33,180.74Z" fill="#4a63aa"/>
<path d="M597.16,190.69A16.00,16.00 0 0 1 594.21,187.74L603.33,180.74A4.50,4.50 0 0 0 604.16,181.57Z" fill="#73ab86"/>
<path d="M595.15,193.31A19.30,19.30 0 0 1 591.59,189.75L594.21,187.74A16.00,16.00 0 0 0 597.16,190.69Z" fill="#acd488"/>
<path d="M594.66,193.95A20.10,20.10 0 0 1 590.95,190.24L591.59,189.75A19.30,19.30 0 0 0 595.15,193.31Z" fill="#e0f27a"/>
<path d="M594.48,194.18A20.40,20.40 0 0 1 590.72,190.42L590.95,190.24A20.10,20.10 0 0 0 594.66,193.95Z" fill="#ffffb5"/>
<path d="M594.36,194.34A20.60,20.60 0 0 1 590.56,190.54L590.72,190.42A20.40,20.40 0 0 0 594.48,194.18Z" fill="#e8db72"/>
<path d="M606.90,178.00L603.73,180.44A4.00,4.00 0 0 1 603.20,179.53Z" fill="#4a63aa"/>
<path d="M594.21,187.74A16.00,16.00 0 0 1 592.12,184.12L603.20,179.53A4.00,4.00 0 0 0 603.73,180.44Z" fill="#73ab86"/>
<path d="M591.43,189.87A19.50,19.50 0 0 1 588.88,185.46L592.12,184.12A16.00,16.00 0 0 0 594.21,187.74Z" fill="#acd488"/>
<path d="M590.79,190.36A20.30,20.30 0 0 1 588.15,185.77L588.88,185.46A19.50,19.50 0 0 0 591.43,189.87Z" fill="#e0f27a"/>
<path d="M590.40,190.66A20.80,20.80 0 0 1 587.68,185.96L588.15,185.77A20.30,20.30 0 0 0 590.79,190.36Z" fill="#ffffb5"/>
<path d="M606.90,178.00L603.20,179.53A4.00,4.00 0 0 1 602.93,178.52Z" fill="#4a63aa"/>
<path d="M591.66,184.31A16.50,16.50 0 0 1 590.54,180.15L602.93,178.52A4.00,4.00 0 0 0 603.20,179.53Z" fill="#73ab86"/>
<path d="M588.70,185.54A19.70,19.70 0 0 1 587.37,180.57L590.54,180.15A16.50,16.50 0 0 0 591.66,184.31Z" fill="#acd488"/>
<path d="M587.87,185.88A20.60,20.60 0 0 1 586.48,180.69L587.37,180.57A19.70,19.70 0 0 0 588.70,185.54Z" fill="#e0f27a"/>
<path d="M587.59,186.00A20.90,20.90 0 0 1 586.18,180.73L586.48,180.69A20.60,20.60 0 0 0 587.87,185.88Z" fill="#ffffb5"/>
<path d="M587.41,186.07A21.10,21.10 0 0 1 585.98,180.75L586.18,180.73A20.90,20.90 0 0 0 587.59,186.00Z" fill="#e8db72"/>
<path d="M606.90,178.00L602.93,178.52A4.00,4.00 0 0 1 602.93,177.48Z" fill="#4a63aa"/>
<path d="M589.75,180.26A17.30,17.30 0 0 1 589.75,175.74L602.93,177.48A4.00,4.00 0 0 0 602.93,178.52Z" fill="#73ab86"/>
<path d="M586.08,180.74A21.00,21.00 0 0 1 586.08,175.26L589.75,175.74A17.30,17.30 0 0 0 589.75,180.26Z" fill="#acd488"/>
<path d="M584.79,180.91A22.30,22.30 0 0 1 584.79,175.09L586.08,175.26A21.00,21.00 0 0 0 586.08,180.74Z" fill="#e0f27a"/>
<path d="M584.39,180.96A22.70,22.70 0 0 1 584.39,175.04L584.79,175.09A22.30,22.30 0 0 0 584.79,180.91Z" fill="#ffffb5"/>
<path d="M584.10,181.00A23.00,23.00 0 0 1 584.10,175.00L584.39,175.04A22.70,22.70 0 0 0 584.39,180.96Z" fill="#e8db72"/>
<path d="M606.90,178.00L602.93,177.48A4.00,4.00 0 0 1 603.20,176.47Z" fill="#4a63aa"/>
<path d="M588.76,175.61A18.30,18.30 0 0 1 589.99,171.00L603.20,176.47A4.00,4.00 0 0 0 602.93,177.48Z" fill="#73ab86"/>
<path d="M578.64,174.28A28.50,28.50 0 0 1 580.57,167.09L589.99,171.00A18.30,18.30 0 0 0 588.76,175.61Z" fill="#acd488"/>
<path d="M576.56,174.01A30.60,30.60 0 0 1 578.63,166.29L580.57,167.09A28.50,28.50 0 0 0 578.64,174.28Z" fill="#e0f27a"/>
<path d="M576.07,173.94A31.10,31.10 0 0 1 578.17,166.10L578.63,166.29A30.60,30.60 0 0 0 576.56,174.01Z" fill="#ffffb5"/>
<path d="M575.77,173.90A31.40,31.40 0 0 1 577.89,165.98L578.17,166.10A31.10,31.10 0 0 0 576.07,173.94Z" fill="#e8db72"/>
<path d="M606.90,178.00L603.02,176.39A4.20,4.20 0 0 1 603.57,175.44Z" fill="#4a63aa"/>
<path d="M587.87,170.12A20.60,20.60 0 0 1 590.56,165.46L603.57,175.44A4.20,4.20 0 0 0 603.02,176.39Z" fill="#73ab86"/>
<path d="M577.80,165.95A31.50,31.50 0 0 1 581.91,158.82L590.56,165.46A20.60,20.60 0 0 0 587.87,170.12Z" fill="#acd488"/>
<path d="M576.23,165.29A33.20,33.20 0 0 1 580.56,157.79L581.91,158.82A31.50,31.50 0 0 0 577.80,165.95Z" fill="#e0f27a"/>
<path d="M575.77,165.10A33.70,33.70 0 0 1 580.16,157.48L580.56,157.79A33.20,33.20 0 0 0 576.23,165.29Z" fill="#ffffb5"/>
<path d="M575.49,164.99A34.00,34.00 0 0 1 579.93,157.30L580.16,157.48A33.70,33.70 0 0 0 575.77,165.10Z" fill="#e8db72"/>
<path d="M606.90,178.00L603.33,175.26A4.50,4.50 0 0 1 604.16,174.43Z" fill="#4a63aa"/>
<path d="M589.60,164.73A21.80,21.80 0 0 1 593.63,160.70L604.16,174.43A4.50,4.50 0 0 0 603.33,175.26Z" fill="#73ab86"/>
<path d="M575.80,154.14A39.20,39.20 0 0 1 583.04,146.90L593.63,160.70A21.80,21.80 0 0 0 589.60,164.73Z" fill="#acd488"/>
<path d="M571.99,151.21A44.00,44.00 0 0 1 580.11,143.09L583.04,146.90A39.20,39.20 0 0 0 575.80,154.14Z" fill="#e0f27a"/>
<path d="M570.96,150.42A45.30,45.30 0 0 1 579.32,142.06L580.11,143.09A44.00,44.00 0 0 0 571.99,151.21Z" fill="#ffffb5"/>
<path d="M570.49,150.06A45.90,45.90 0 0 1 578.96,141.59L579.32,142.06A45.30,45.30 0 0 0 570.96,150.42Z" fill="#e8db72"/>
<path d="M570.25,149.88A46.20,46.20 0 0 1 578.78,141.35L578.96,141.59A45.90,45.90 0 0 0 570.49,150.06Z" fill="#d39b45"/>
<path d="M570.01,149.69A46.50,46.50 0 0 1 578.59,141.11L578.78,141.35A46.20,46.20 0 0 0 570.25,149.88Z" fill="#772337"/>
<path d="M606.90,178.00L603.55,173.64A5.50,5.50 0 0 1 604.80,172.92Z" fill="#4a63aa"/>
<path d="M592.53,159.28A23.60,23.60 0 0 1 597.87,156.20L604.80,172.92A5.50,5.50 0 0 0 603.55,173.64Z" fill="#73ab86"/>
<path d="M579.51,142.30A45.00,45.00 0 0 1 589.68,136.43L597.87,156.20A23.60,23.60 0 0 0 592.53,159.28Z" fill="#acd488"/>
<path d="M573.42,134.37A55.00,55.00 0 0 1 585.85,127.19L589.68,136.43A45.00,45.00 0 0 0 579.51,142.30Z" fill="#e0f27a"/>
<path d="M572.20,132.78A57.00,57.00 0 0 1 585.09,125.34L585.85,127.19A55.00,55.00 0 0 0 573.42,134.37Z" fill="#ffffb5"/>
<path d="M571.59,131.99A58.00,58.00 0 0 1 584.70,124.41L585.09,125.34A57.00,57.00 0 0 0 572.20,132.78Z" fill="#e8db72"/>
<path d="M571.35,131.67A58.40,58.40 0 0 1 584.55,124.05L584.70,124.41A58.00,58.00 0 0 0 571.59,131.99Z" fill="#d39b45"/>
<path d="M571.17,131.43A58.70,58.70 0 0 1 584.44,123.77L584.55,124.05A58.40,58.40 0 0 0 571.35,131.67Z" fill="#a6522a"/>
<path d="M570.98,131.19A59.00,59.00 0 0 1 584.32,123.49L584.44,123.77A58.70,58.70 0 0 0 571.17,131.43Z" fill="#772337"/>
<path d="M606.90,178.00L604.41,171.99A6.50,6.50 0 0 1 606.05,171.56Z" fill="#4a63aa"/>
<path d="M597.26,154.72A25.20,25.20 0 0 1 603.61,153.02L606.05,171.56A6.50,6.50 0 0 0 604.41,171.99Z" fill="#73ab86"/>
<path d="M587.84,131.99A49.80,49.80 0 0 1 600.40,128.63L603.61,153.02A25.20,25.20 0 0 0 597.26,154.72Z" fill="#acd488"/>
<path d="M580.49,114.25A69.00,69.00 0 0 1 597.89,109.59L600.40,128.63A49.80,49.80 0 0 0 587.84,131.99Z" fill="#e0f27a"/>
<path d="M578.89,110.37A73.20,73.20 0 0 1 597.35,105.43L597.89,109.59A69.00,69.00 0 0 0 580.49,114.25Z" fill="#ffffb5"/>
<path d="M577.93,108.06A75.70,75.70 0 0 1 597.02,102.95L597.35,105.43A73.20,73.20 0 0 0 578.89,110.37Z" fill="#e8db72"/>
<path d="M577.78,107.69A76.10,76.10 0 0 1 596.97,102.55L597.02,102.95A75.70,75.70 0 0 0 577.93,108.06Z" fill="#d39b45"/>
<path d="M577.62,107.32A76.50,76.50 0 0 1 596.91,102.15L596.97,102.55A76.10,76.10 0 0 0 577.78,107.69Z" fill="#a6522a"/>
<path d="M577.51,107.05A76.80,76.80 0 0 1 596.88,101.86L596.91,102.15A76.50,76.50 0 0 0 577.62,107.32Z" fill="#772337"/>
</g>
<circle cx="606.9" cy="178.0" r="127.4" fill="none" stroke="#303030" stroke-width="1.25"/>
<text x="606.90" y="38.60" font-size="10" text-anchor="middle">0°</text>
<text x="708.02" y="80.48" font-size="10" text-anchor="middle">45°</text>
<text x="749.90" y="181.60" font-size="10" text-anchor="middle">90°</text>
<text x="708.02" y="282.72" font-size="10" text-anchor="middle">135°</text>
<text x="606.90" y="324.60" font-size="10" text-anchor="middle">180°</text>
<text x="505.78" y="282.72" font-size="10" text-anchor="middle">225°</text>
<text x="463.90" y="181.60" font-size="10" text-anchor="middle">270°</text>
<text x="505.78" y="80.48" font-size="10" text-anchor="middle">315°</text>
<path d="M448.0,19.1V336.9H765.5" fill="none" stroke="#2a2a2a" stroke-width="1.6" stroke-linejoin="miter"/>
<line x1="444.4" y1="178.00" x2="447.2" y2="178.00" stroke="#444" stroke-width="0.8"/>
<text x="441.8" y="181.00" font-size="8.7" text-anchor="end">0</text>
<line x1="444.4" y1="152.52" x2="447.2" y2="152.52" stroke="#444" stroke-width="0.8"/>
<text x="441.8" y="155.52" font-size="8.7" text-anchor="end">0.02</text>
<line x1="444.4" y1="127.04" x2="447.2" y2="127.04" stroke="#444" stroke-width="0.8"/>
<text x="441.8" y="130.04" font-size="8.7" text-anchor="end">0.04</text>
<line x1="444.4" y1="101.56" x2="447.2" y2="101.56" stroke="#444" stroke-width="0.8"/>
<text x="441.8" y="104.56" font-size="8.7" text-anchor="end">0.06</text>
<line x1="444.4" y1="76.08" x2="447.2" y2="76.08" stroke="#444" stroke-width="0.8"/>
<text x="441.8" y="79.08" font-size="8.7" text-anchor="end">0.08</text>
<line x1="444.4" y1="50.60" x2="447.2" y2="50.60" stroke="#444" stroke-width="0.8"/>
<text x="441.8" y="53.60" font-size="8.7" text-anchor="end">0.10</text>
<text x="447.8" y="10.3" font-size="12">b)</text>
</g>
<g>
<circle cx="218.4" cy="537.4" r="20.55" fill="none" stroke="#d2d2d2" stroke-width="1.0"/>
<circle cx="218.4" cy="537.4" r="41.10" fill="none" stroke="#d2d2d2" stroke-width="1.0"/>
<circle cx="218.4" cy="537.4" r="61.65" fill="none" stroke="#d2d2d2" stroke-width="1.0"/>
<circle cx="218.4" cy="537.4" r="82.20" fill="none" stroke="#d2d2d2" stroke-width="1.0"/>
<circle cx="218.4" cy="537.4" r="102.75" fill="none" stroke="#d2d2d2" stroke-width="1.0"/>
<path d="M218.4,537.4L218.40,414.10M218.4,537.4L250.31,418.30M218.4,537.4L280.05,430.62M218.4,537.4L305.59,450.21M218.4,537.4L325.18,475.75M218.4,537.4L337.50,505.49M218.4,537.4L341.70,537.40M218.4,537.4L337.50,569.31M218.4,537.4L325.18,599.05M218.4,537.4L305.59,624.59M218.4,537.4L280.05,644.18M218.4,537.4L250.31,656.50M218.4,537.4L218.40,660.70M218.4,537.4L186.49,656.50M218.4,537.4L156.75,644.18M218.4,537.4L131.21,624.59M218.4,537.4L111.62,599.05M218.4,537.4L99.30,569.31M218.4,537.4L95.10,537.40M218.4,537.4L99.30,505.49M218.4,537.4L111.62,475.75M218.4,537.4L131.21,450.21M218.4,537.4L156.75,430.62M218.4,537.4L186.49,418.30" stroke="#9c9c9c" stroke-width="1.05" fill="none"/>
<line x1="218.4" y1="537.4" x2="156.75" y2="430.62" stroke="#1a1a1a" stroke-width="1.45" stroke-dasharray="5.4,2.9"/>
<line x1="218.4" y1="537.4" x2="337.50" y2="569.31" stroke="#1a1a1a" stroke-width="1.45" stroke-dasharray="5.4,2.9"/>
<g stroke="#1c1c1c" stroke-opacity="0.7" stroke-width="0.62" stroke-linejoin="miter" fill-opacity="0.8">
<path d="M218.40,537.40L215.96,518.86A18.70,18.70 0 0 1 220.84,518.86Z" fill="#4a63aa"/>
<path d="M208.51,462.25A75.80,75.80 0 0 1 228.29,462.25L220.84,518.86A18.70,18.70 0 0 0 215.96,518.86Z" fill="#73ab86"/>
<path d="M205.86,442.12A96.10,96.10 0 0 1 230.94,442.12L228.29,462.25A75.80,75.80 0 0 0 208.51,462.25Z" fill="#acd488"/>
<path d="M205.11,436.47A101.80,101.80 0 0 1 231.69,436.47L230.94,442.12A96.10,96.10 0 0 0 205.86,442.12Z" fill="#e0f27a"/>
<path d="M205.07,436.19A102.09,102.09 0 0 1 231.73,436.19L231.69,436.47A101.80,101.80 0 0 0 205.11,436.47Z" fill="#ffffb5"/>
<path d="M205.04,435.92A102.36,102.36 0 0 1 231.76,435.92L231.73,436.19A102.09,102.09 0 0 0 205.07,436.19Z" fill="#e8db72"/>
<path d="M205.01,435.68A102.60,102.60 0 0 1 231.79,435.68L231.76,435.92A102.36,102.36 0 0 0 205.04,435.92Z" fill="#d39b45"/>
<path d="M218.40,537.40L220.75,519.55A18.00,18.00 0 0 1 225.29,520.77Z" fill="#4a63aa"/>
<path d="M227.20,470.58A67.40,67.40 0 0 1 244.19,475.13L225.29,520.77A18.00,18.00 0 0 0 220.75,519.55Z" fill="#73ab86"/>
<path d="M229.87,450.25A87.90,87.90 0 0 1 252.04,456.19L244.19,475.13A67.40,67.40 0 0 0 227.20,470.58Z" fill="#acd488"/>
<path d="M230.46,445.79A92.40,92.40 0 0 1 253.76,452.03L252.04,456.19A87.90,87.90 0 0 0 229.87,450.25Z" fill="#e0f27a"/>
<path d="M230.50,445.50A92.69,92.69 0 0 1 253.87,451.77L253.76,452.03A92.40,92.40 0 0 0 230.46,445.79Z" fill="#ffffb5"/>
<path d="M230.53,445.24A92.96,92.96 0 0 1 253.97,451.52L253.87,451.77A92.69,92.69 0 0 0 230.50,445.50Z" fill="#e8db72"/>
<path d="M230.57,445.00A93.20,93.20 0 0 1 254.07,451.29L253.97,451.52A92.96,92.96 0 0 0 230.53,445.24Z" fill="#d39b45"/>
<path d="M218.40,537.40L226.05,518.92A20.00,20.00 0 0 1 230.58,521.53Z" fill="#4a63aa"/>
<path d="M239.95,485.39A56.30,56.30 0 0 1 252.67,492.73L230.58,521.53A20.00,20.00 0 0 0 226.05,518.92Z" fill="#73ab86"/>
<path d="M246.07,470.60A72.30,72.30 0 0 1 262.41,480.04L252.67,492.73A56.30,56.30 0 0 0 239.95,485.39Z" fill="#acd488"/>
<path d="M247.56,467.00A76.20,76.20 0 0 1 264.79,476.95L262.41,480.04A72.30,72.30 0 0 0 246.07,470.60Z" fill="#e0f27a"/>
<path d="M247.67,466.73A76.49,76.49 0 0 1 264.96,476.72L264.79,476.95A76.20,76.20 0 0 0 247.56,467.00Z" fill="#ffffb5"/>
<path d="M247.77,466.48A76.76,76.76 0 0 1 265.13,476.50L264.96,476.72A76.49,76.49 0 0 0 247.67,466.73Z" fill="#e8db72"/>
<path d="M247.87,466.26A77.00,77.00 0 0 1 265.27,476.31L265.13,476.50A76.76,76.76 0 0 0 247.77,466.48Z" fill="#d39b45"/>
<path d="M218.40,537.40L229.97,522.33A19.00,19.00 0 0 1 233.47,525.83Z" fill="#4a63aa"/>
<path d="M252.49,492.97A56.00,56.00 0 0 1 262.83,503.31L233.47,525.83A19.00,19.00 0 0 0 229.97,522.33Z" fill="#73ab86"/>
<path d="M262.23,480.28A72.00,72.00 0 0 1 275.52,493.57L262.83,503.31A56.00,56.00 0 0 0 252.49,492.97Z" fill="#acd488"/>
<path d="M264.18,477.74A75.20,75.20 0 0 1 278.06,491.62L275.52,493.57A72.00,72.00 0 0 0 262.23,480.28Z" fill="#e0f27a"/>
<path d="M264.35,477.51A75.49,75.49 0 0 1 278.29,491.45L278.06,491.62A75.20,75.20 0 0 0 264.18,477.74Z" fill="#ffffb5"/>
<path d="M264.52,477.30A75.76,75.76 0 0 1 278.50,491.28L278.29,491.45A75.49,75.49 0 0 0 264.35,477.51Z" fill="#e8db72"/>
<path d="M264.67,477.11A76.00,76.00 0 0 1 278.69,491.13L278.50,491.28A75.76,75.76 0 0 0 264.52,477.30Z" fill="#d39b45"/>
<path d="M218.40,537.40L231.97,526.99A17.10,17.10 0 0 1 234.20,530.86Z" fill="#4a63aa"/>
<path d="M261.64,504.22A54.50,54.50 0 0 1 268.75,516.54L234.20,530.86A17.10,17.10 0 0 0 231.97,526.99Z" fill="#73ab86"/>
<path d="M273.14,495.40A69.00,69.00 0 0 1 282.15,510.99L268.75,516.54A54.50,54.50 0 0 0 261.64,504.22Z" fill="#acd488"/>
<path d="M274.89,494.06A71.20,71.20 0 0 1 284.18,510.15L282.15,510.99A69.00,69.00 0 0 0 273.14,495.40Z" fill="#e0f27a"/>
<path d="M275.12,493.88A71.49,71.49 0 0 1 284.45,510.04L284.18,510.15A71.20,71.20 0 0 0 274.89,494.06Z" fill="#ffffb5"/>
<path d="M275.33,493.72A71.76,71.76 0 0 1 284.70,509.94L284.45,510.04A71.49,71.49 0 0 0 275.12,493.88Z" fill="#e8db72"/>
<path d="M275.52,493.57A72.00,72.00 0 0 1 284.92,509.85L284.70,509.94A71.76,71.76 0 0 0 275.33,493.72Z" fill="#d39b45"/>
<path d="M218.40,537.40L233.74,531.05A16.60,16.60 0 0 1 234.86,535.23Z" fill="#4a63aa"/>
<path d="M267.09,517.23A52.70,52.70 0 0 1 270.65,530.52L234.86,535.23A16.60,16.60 0 0 0 233.74,531.05Z" fill="#73ab86"/>
<path d="M280.67,511.61A67.40,67.40 0 0 1 285.22,528.60L270.65,530.52A52.70,52.70 0 0 0 267.09,517.23Z" fill="#acd488"/>
<path d="M282.33,510.92A69.20,69.20 0 0 1 287.01,528.37L285.22,528.60A67.40,67.40 0 0 0 280.67,511.61Z" fill="#e0f27a"/>
<path d="M282.60,510.81A69.49,69.49 0 0 1 287.29,528.33L287.01,528.37A69.20,69.20 0 0 0 282.33,510.92Z" fill="#ffffb5"/>
<path d="M282.85,510.70A69.76,69.76 0 0 1 287.56,528.29L287.29,528.33A69.49,69.49 0 0 0 282.60,510.81Z" fill="#e8db72"/>
<path d="M283.07,510.61A70.00,70.00 0 0 1 287.80,528.26L287.56,528.29A69.76,69.76 0 0 0 282.85,510.70Z" fill="#d39b45"/>
<path d="M218.40,537.40L235.16,535.19A16.90,16.90 0 0 1 235.16,539.61Z" fill="#4a63aa"/>
<path d="M273.23,530.18A55.30,55.30 0 0 1 273.23,544.62L235.16,539.61A16.90,16.90 0 0 0 235.16,535.19Z" fill="#73ab86"/>
<path d="M287.40,528.32A69.60,69.60 0 0 1 287.40,546.48L273.23,544.62A55.30,55.30 0 0 0 273.23,530.18Z" fill="#acd488"/>
<path d="M288.79,528.13A71.00,71.00 0 0 1 288.79,546.67L287.40,546.48A69.60,69.60 0 0 0 287.40,528.32Z" fill="#e0f27a"/>
<path d="M289.08,528.10A71.29,71.29 0 0 1 289.08,546.70L288.79,546.67A71.00,71.00 0 0 0 288.79,528.13Z" fill="#ffffb5"/>
<path d="M289.35,528.06A71.56,71.56 0 0 1 289.35,546.74L289.08,546.70A71.29,71.29 0 0 0 289.08,528.10Z" fill="#e8db72"/>
<path d="M289.59,528.03A71.80,71.80 0 0 1 289.59,546.77L289.35,546.74A71.56,71.56 0 0 0 289.35,528.06Z" fill="#d39b45"/>
<path d="M218.40,537.40L235.75,539.68A17.50,17.50 0 0 1 234.57,544.10Z" fill="#4a63aa"/>
<path d="M273.62,544.67A55.70,55.70 0 0 1 269.86,558.72L234.57,544.10A17.50,17.50 0 0 0 235.75,539.68Z" fill="#73ab86"/>
<path d="M285.62,546.25A67.80,67.80 0 0 1 281.04,563.35L269.86,558.72A55.70,55.70 0 0 0 273.62,544.67Z" fill="#acd488"/>
<path d="M286.31,546.34A68.50,68.50 0 0 1 281.69,563.61L281.04,563.35A67.80,67.80 0 0 0 285.62,546.25Z" fill="#e0f27a"/>
<path d="M286.60,546.38A68.79,68.79 0 0 1 281.95,563.72L281.69,563.61A68.50,68.50 0 0 0 286.31,546.34Z" fill="#ffffb5"/>
<path d="M286.87,546.41A69.06,69.06 0 0 1 282.20,563.83L281.95,563.72A68.79,68.79 0 0 0 286.60,546.38Z" fill="#e8db72"/>
<path d="M287.11,546.45A69.30,69.30 0 0 1 282.42,563.92L282.20,563.83A69.06,69.06 0 0 0 286.87,546.41Z" fill="#d39b45"/>
<path d="M218.40,537.40L235.03,544.29A18.00,18.00 0 0 1 232.68,548.36Z" fill="#4a63aa"/>
<path d="M273.74,560.32A59.90,59.90 0 0 1 265.92,573.86L232.68,548.36A18.00,18.00 0 0 0 235.03,544.29Z" fill="#73ab86"/>
<path d="M283.53,564.38A70.50,70.50 0 0 1 274.33,580.32L265.92,573.86A59.90,59.90 0 0 0 273.74,560.32Z" fill="#acd488"/>
<path d="M284.55,564.80A71.60,71.60 0 0 1 275.20,580.99L274.33,580.32A70.50,70.50 0 0 0 283.53,564.38Z" fill="#e0f27a"/>
<path d="M284.82,564.91A71.89,71.89 0 0 1 275.43,581.16L275.20,580.99A71.60,71.60 0 0 0 284.55,564.80Z" fill="#ffffb5"/>
<path d="M285.07,565.01A72.16,72.16 0 0 1 275.65,581.33L275.43,581.16A71.89,71.89 0 0 0 284.82,564.91Z" fill="#e8db72"/>
<path d="M285.29,565.11A72.40,72.40 0 0 1 275.84,581.47L275.65,581.33A72.16,72.16 0 0 0 285.07,565.01Z" fill="#d39b45"/>
<path d="M218.40,537.40L232.36,548.11A17.60,17.60 0 0 1 229.11,551.36Z" fill="#4a63aa"/>
<path d="M264.10,572.46A57.60,57.60 0 0 1 253.46,583.10L229.11,551.36A17.60,17.60 0 0 0 232.36,548.11Z" fill="#73ab86"/>
<path d="M281.47,585.80A79.50,79.50 0 0 1 266.80,600.47L253.46,583.10A57.60,57.60 0 0 0 264.10,572.46Z" fill="#acd488"/>
<path d="M284.41,588.05A83.20,83.20 0 0 1 269.05,603.41L266.80,600.47A79.50,79.50 0 0 0 281.47,585.80Z" fill="#e0f27a"/>
<path d="M284.64,588.22A83.49,83.49 0 0 1 269.22,603.64L269.05,603.41A83.20,83.20 0 0 0 284.41,588.05Z" fill="#ffffb5"/>
<path d="M284.85,588.39A83.76,83.76 0 0 1 269.39,603.85L269.22,603.64A83.49,83.49 0 0 0 284.64,588.22Z" fill="#e8db72"/>
<path d="M285.04,588.54A84.00,84.00 0 0 1 269.54,604.04L269.39,603.85A83.76,83.76 0 0 0 284.85,588.39Z" fill="#d39b45"/>
<path d="M218.40,537.40L230.03,552.55A19.10,19.10 0 0 1 225.71,555.05Z" fill="#4a63aa"/>
<path d="M253.10,582.62A57.00,57.00 0 0 1 240.21,590.06L225.71,555.05A19.10,19.10 0 0 0 230.03,552.55Z" fill="#73ab86"/>
<path d="M266.80,600.47A79.50,79.50 0 0 1 248.82,610.85L240.21,590.06A57.00,57.00 0 0 0 253.10,582.62Z" fill="#acd488"/>
<path d="M269.54,604.04A84.00,84.00 0 0 1 250.55,615.01L248.82,610.85A79.50,79.50 0 0 0 266.80,600.47Z" fill="#e0f27a"/>
<path d="M269.71,604.27A84.29,84.29 0 0 1 250.66,615.27L250.55,615.01A84.00,84.00 0 0 0 269.54,604.04Z" fill="#ffffb5"/>
<path d="M269.88,604.49A84.56,84.56 0 0 1 250.76,615.52L250.66,615.27A84.29,84.29 0 0 0 269.71,604.27Z" fill="#e8db72"/>
<path d="M270.02,604.68A84.80,84.80 0 0 1 250.85,615.74L250.76,615.52A84.56,84.56 0 0 0 269.88,604.49Z" fill="#d39b45"/>
<path d="M218.40,537.40L225.63,554.86A18.90,18.90 0 0 1 220.87,556.14Z" fill="#4a63aa"/>
<path d="M239.56,588.49A55.30,55.30 0 0 1 225.62,592.23L220.87,556.14A18.90,18.90 0 0 0 225.63,554.86Z" fill="#73ab86"/>
<path d="M247.48,607.61A76.00,76.00 0 0 1 228.32,612.75L225.62,592.23A55.30,55.30 0 0 0 239.56,588.49Z" fill="#acd488"/>
<path d="M248.90,611.03A79.70,79.70 0 0 1 228.80,616.42L228.32,612.75A76.00,76.00 0 0 0 247.48,607.61Z" fill="#e0f27a"/>
<path d="M249.01,611.30A79.99,79.99 0 0 1 228.84,616.70L228.80,616.42A79.70,79.70 0 0 0 248.90,611.03Z" fill="#ffffb5"/>
<path d="M249.11,611.55A80.26,80.26 0 0 1 228.88,616.97L228.84,616.70A79.99,79.99 0 0 0 249.01,611.30Z" fill="#e8db72"/>
<path d="M249.21,611.77A80.50,80.50 0 0 1 228.91,617.21L228.88,616.97A80.26,80.26 0 0 0 249.11,611.55Z" fill="#d39b45"/>
<path d="M218.40,537.40L220.49,553.26A16.00,16.00 0 0 1 216.31,553.26Z" fill="#4a63aa"/>
<path d="M225.53,591.53A54.60,54.60 0 0 1 211.27,591.53L216.31,553.26A16.00,16.00 0 0 0 220.49,553.26Z" fill="#73ab86"/>
<path d="M228.84,616.72A80.00,80.00 0 0 1 207.96,616.72L211.27,591.53A54.60,54.60 0 0 0 225.53,591.53Z" fill="#acd488"/>
<path d="M229.56,622.17A85.50,85.50 0 0 1 207.24,622.17L207.96,616.72A80.00,80.00 0 0 0 228.84,616.72Z" fill="#e0f27a"/>
<path d="M229.60,622.45A85.79,85.79 0 0 1 207.20,622.45L207.24,622.17A85.50,85.50 0 0 0 229.56,622.17Z" fill="#ffffb5"/>
<path d="M229.63,622.72A86.06,86.06 0 0 1 207.17,622.72L207.20,622.45A85.79,85.79 0 0 0 229.60,622.45Z" fill="#e8db72"/>
<path d="M229.66,622.96A86.30,86.30 0 0 1 207.14,622.96L207.17,622.72A86.06,86.06 0 0 0 229.63,622.72Z" fill="#d39b45"/>
<path d="M218.40,537.40L216.38,552.77A15.50,15.50 0 0 1 212.47,551.72Z" fill="#4a63aa"/>
<path d="M210.05,600.85A64.00,64.00 0 0 1 193.91,596.53L212.47,551.72A15.50,15.50 0 0 0 216.38,552.77Z" fill="#73ab86"/>
<path d="M205.02,639.02A102.50,102.50 0 0 1 179.17,632.10L193.91,596.53A64.00,64.00 0 0 0 210.05,600.85Z" fill="#acd488"/>
<path d="M204.43,643.48A107.00,107.00 0 0 1 177.45,636.26L179.17,632.10A102.50,102.50 0 0 0 205.02,639.02Z" fill="#e0f27a"/>
<path d="M204.40,643.77A107.29,107.29 0 0 1 177.34,636.52L177.45,636.26A107.00,107.00 0 0 0 204.43,643.48Z" fill="#ffffb5"/>
<path d="M204.36,644.04A107.56,107.56 0 0 1 177.24,636.77L177.34,636.52A107.29,107.29 0 0 0 204.40,643.77Z" fill="#e8db72"/>
<path d="M204.33,644.28A107.80,107.80 0 0 1 177.15,636.99L177.24,636.77A107.56,107.56 0 0 0 204.36,644.04Z" fill="#d39b45"/>
<path d="M218.40,537.40L212.54,551.54A15.30,15.30 0 0 1 209.09,549.54Z" fill="#4a63aa"/>
<path d="M194.79,594.40A61.70,61.70 0 0 1 180.84,586.35L209.09,549.54A15.30,15.30 0 0 0 212.54,551.54Z" fill="#73ab86"/>
<path d="M180.02,630.07A100.30,100.30 0 0 1 157.34,616.97L180.84,586.35A61.70,61.70 0 0 0 194.79,594.40Z" fill="#acd488"/>
<path d="M178.41,633.95A104.50,104.50 0 0 1 154.78,620.31L157.34,616.97A100.30,100.30 0 0 0 180.02,630.07Z" fill="#e0f27a"/>
<path d="M178.30,634.21A104.79,104.79 0 0 1 154.61,620.53L154.78,620.31A104.50,104.50 0 0 0 178.41,633.95Z" fill="#ffffb5"/>
<path d="M178.20,634.46A105.06,105.06 0 0 1 154.44,620.75L154.61,620.53A104.79,104.79 0 0 0 178.30,634.21Z" fill="#e8db72"/>
<path d="M178.10,634.68A105.30,105.30 0 0 1 154.30,620.94L154.44,620.75A105.06,105.06 0 0 0 178.20,634.46Z" fill="#d39b45"/>
<path d="M218.40,537.40L210.30,547.95A13.30,13.30 0 0 1 207.85,545.50Z" fill="#4a63aa"/>
<path d="M181.81,585.08A60.10,60.10 0 0 1 170.72,573.99L207.85,545.50A13.30,13.30 0 0 0 210.30,547.95Z" fill="#73ab86"/>
<path d="M164.22,608.01A89.00,89.00 0 0 1 147.79,591.58L170.72,573.99A60.10,60.10 0 0 0 181.81,585.08Z" fill="#acd488"/>
<path d="M162.76,609.91A91.40,91.40 0 0 1 145.89,593.04L147.79,591.58A89.00,89.00 0 0 0 164.22,608.01Z" fill="#e0f27a"/>
<path d="M162.58,610.14A91.69,91.69 0 0 1 145.66,593.22L145.89,593.04A91.40,91.40 0 0 0 162.76,609.91Z" fill="#ffffb5"/>
<path d="M162.42,610.36A91.96,91.96 0 0 1 145.44,593.38L145.66,593.22A91.69,91.69 0 0 0 162.58,610.14Z" fill="#e8db72"/>
<path d="M162.27,610.55A92.20,92.20 0 0 1 145.25,593.53L145.44,593.38A91.96,91.96 0 0 0 162.42,610.36Z" fill="#d39b45"/>
<path d="M218.40,537.40L208.09,545.31A13.00,13.00 0 0 1 206.39,542.37Z" fill="#4a63aa"/>
<path d="M171.04,573.74A59.70,59.70 0 0 1 163.24,560.25L206.39,542.37A13.00,13.00 0 0 0 208.09,545.31Z" fill="#73ab86"/>
<path d="M139.70,597.79A99.20,99.20 0 0 1 126.75,575.36L163.24,560.25A59.70,59.70 0 0 0 171.04,573.74Z" fill="#acd488"/>
<path d="M136.13,600.53A103.70,103.70 0 0 1 122.59,577.08L126.75,575.36A99.20,99.20 0 0 0 139.70,597.79Z" fill="#e0f27a"/>
<path d="M135.90,600.70A103.99,103.99 0 0 1 122.33,577.19L122.59,577.08A103.70,103.70 0 0 0 136.13,600.53Z" fill="#ffffb5"/>
<path d="M135.68,600.87A104.26,104.26 0 0 1 122.08,577.30L122.33,577.19A103.99,103.99 0 0 0 135.90,600.70Z" fill="#e8db72"/>
<path d="M135.49,601.02A104.50,104.50 0 0 1 121.85,577.39L122.08,577.30A104.26,104.26 0 0 0 135.68,600.87Z" fill="#d39b45"/>
<path d="M218.40,537.40L207.68,541.84A11.60,11.60 0 0 1 206.90,538.91Z" fill="#4a63aa"/>
<path d="M162.97,560.36A60.00,60.00 0 0 1 158.91,545.23L206.90,538.91A11.60,11.60 0 0 0 207.68,541.84Z" fill="#73ab86"/>
<path d="M125.92,575.71A100.10,100.10 0 0 1 119.16,550.47L158.91,545.23A60.00,60.00 0 0 0 162.97,560.36Z" fill="#acd488"/>
<path d="M120.47,577.96A106.00,106.00 0 0 1 113.31,551.24L119.16,550.47A100.10,100.10 0 0 0 125.92,575.71Z" fill="#e0f27a"/>
<path d="M120.20,578.07A106.29,106.29 0 0 1 113.02,551.27L113.31,551.24A106.00,106.00 0 0 0 120.47,577.96Z" fill="#ffffb5"/>
<path d="M119.95,578.18A106.56,106.56 0 0 1 112.75,551.31L113.02,551.27A106.29,106.29 0 0 0 120.20,578.07Z" fill="#e8db72"/>
<path d="M119.73,578.27A106.80,106.80 0 0 1 112.51,551.34L112.75,551.31A106.56,106.56 0 0 0 119.95,578.18Z" fill="#d39b45"/>
<path d="M218.40,537.40L206.70,538.94A11.80,11.80 0 0 1 206.70,535.86Z" fill="#4a63aa"/>
<path d="M159.11,545.21A59.80,59.80 0 0 1 159.11,529.59L206.70,535.86A11.80,11.80 0 0 0 206.70,538.94Z" fill="#73ab86"/>
<path d="M126.59,549.49A92.60,92.60 0 0 1 126.59,525.31L159.11,529.59A59.80,59.80 0 0 0 159.11,545.21Z" fill="#acd488"/>
<path d="M120.05,550.35A99.20,99.20 0 0 1 120.05,524.45L126.59,525.31A92.60,92.60 0 0 0 126.59,549.49Z" fill="#e0f27a"/>
<path d="M119.76,550.39A99.49,99.49 0 0 1 119.76,524.41L120.05,524.45A99.20,99.20 0 0 0 120.05,550.35Z" fill="#ffffb5"/>
<path d="M119.49,550.42A99.76,99.76 0 0 1 119.49,524.38L119.76,524.41A99.49,99.49 0 0 0 119.76,550.39Z" fill="#e8db72"/>
<path d="M119.26,550.45A100.00,100.00 0 0 1 119.26,524.35L119.49,524.38A99.76,99.76 0 0 0 119.49,550.42Z" fill="#d39b45"/>
<path d="M218.40,537.40L206.30,535.81A12.20,12.20 0 0 1 207.13,532.73Z" fill="#4a63aa"/>
<path d="M160.90,529.83A58.00,58.00 0 0 1 164.81,515.20L207.13,532.73A12.20,12.20 0 0 0 206.30,535.81Z" fill="#73ab86"/>
<path d="M131.85,526.01A87.30,87.30 0 0 1 137.75,503.99L164.81,515.20A58.00,58.00 0 0 0 160.90,529.83Z" fill="#acd488"/>
<path d="M126.49,525.30A92.70,92.70 0 0 1 132.76,501.93L137.75,503.99A87.30,87.30 0 0 0 131.85,526.01Z" fill="#e0f27a"/>
<path d="M126.21,525.26A92.99,92.99 0 0 1 132.49,501.82L132.76,501.93A92.70,92.70 0 0 0 126.49,525.30Z" fill="#ffffb5"/>
<path d="M125.94,525.23A93.26,93.26 0 0 1 132.24,501.71L132.49,501.82A92.99,92.99 0 0 0 126.21,525.26Z" fill="#e8db72"/>
<path d="M125.70,525.20A93.50,93.50 0 0 1 132.02,501.62L132.24,501.71A93.26,93.26 0 0 0 125.94,525.23Z" fill="#d39b45"/>
<path d="M218.40,537.40L207.13,532.73A12.20,12.20 0 0 1 208.72,529.97Z" fill="#4a63aa"/>
<path d="M168.51,516.74A54.00,54.00 0 0 1 175.56,504.53L208.72,529.97A12.20,12.20 0 0 0 207.13,532.73Z" fill="#73ab86"/>
<path d="M151.05,509.50A72.90,72.90 0 0 1 160.56,493.02L175.56,504.53A54.00,54.00 0 0 0 168.51,516.74Z" fill="#acd488"/>
<path d="M147.72,508.12A76.50,76.50 0 0 1 157.71,490.83L160.56,493.02A72.90,72.90 0 0 0 151.05,509.50Z" fill="#e0f27a"/>
<path d="M147.46,508.01A76.79,76.79 0 0 1 157.48,490.65L157.71,490.83A76.50,76.50 0 0 0 147.72,508.12Z" fill="#ffffb5"/>
<path d="M147.21,507.91A77.06,77.06 0 0 1 157.26,490.49L157.48,490.65A76.79,76.79 0 0 0 147.46,508.01Z" fill="#e8db72"/>
<path d="M146.98,507.82A77.30,77.30 0 0 1 157.07,490.34L157.26,490.49A77.06,77.06 0 0 0 147.21,507.91Z" fill="#d39b45"/>
<path d="M218.40,537.40L208.17,529.55A12.90,12.90 0 0 1 210.55,527.17Z" fill="#4a63aa"/>
<path d="M179.76,507.75A48.70,48.70 0 0 1 188.75,498.76L210.55,527.17A12.90,12.90 0 0 0 208.17,529.55Z" fill="#73ab86"/>
<path d="M168.42,499.05A63.00,63.00 0 0 1 180.05,487.42L188.75,498.76A48.70,48.70 0 0 0 179.76,507.75Z" fill="#acd488"/>
<path d="M166.83,497.83A65.00,65.00 0 0 1 178.83,485.83L180.05,487.42A63.00,63.00 0 0 0 168.42,499.05Z" fill="#e0f27a"/>
<path d="M166.60,497.66A65.29,65.29 0 0 1 178.66,485.60L178.83,485.83A65.00,65.00 0 0 0 166.83,497.83Z" fill="#ffffb5"/>
<path d="M166.39,497.49A65.56,65.56 0 0 1 178.49,485.39L178.66,485.60A65.29,65.29 0 0 0 166.60,497.66Z" fill="#e8db72"/>
<path d="M166.20,497.34A65.80,65.80 0 0 1 178.34,485.20L178.49,485.39A65.56,65.56 0 0 0 166.39,497.49Z" fill="#d39b45"/>
<path d="M218.40,537.40L208.54,524.55A16.20,16.20 0 0 1 212.20,522.43Z" fill="#4a63aa"/>
<path d="M187.96,497.73A50.00,50.00 0 0 1 199.27,491.21L212.20,522.43A16.20,16.20 0 0 0 208.54,524.55Z" fill="#73ab86"/>
<path d="M176.21,482.42A69.30,69.30 0 0 1 191.88,473.38L199.27,491.21A50.00,50.00 0 0 0 187.96,497.73Z" fill="#acd488"/>
<path d="M174.45,480.12A72.20,72.20 0 0 1 190.77,470.70L191.88,473.38A69.30,69.30 0 0 0 176.21,482.42Z" fill="#e0f27a"/>
<path d="M174.27,479.89A72.49,72.49 0 0 1 190.66,470.43L190.77,470.70A72.20,72.20 0 0 0 174.45,480.12Z" fill="#ffffb5"/>
<path d="M174.11,479.68A72.76,72.76 0 0 1 190.56,470.18L190.66,470.43A72.49,72.49 0 0 0 174.27,479.89Z" fill="#e8db72"/>
<path d="M173.96,479.49A73.00,73.00 0 0 1 190.46,469.96L190.56,470.18A72.76,72.76 0 0 0 174.11,479.68Z" fill="#d39b45"/>
<path d="M218.40,537.40L211.51,520.77A18.00,18.00 0 0 1 216.05,519.55Z" fill="#4a63aa"/>
<path d="M198.92,490.37A50.90,50.90 0 0 1 211.76,486.94L216.05,519.55A18.00,18.00 0 0 0 211.51,520.77Z" fill="#73ab86"/>
<path d="M191.99,473.65A69.00,69.00 0 0 1 209.39,468.99L211.76,486.94A50.90,50.90 0 0 0 198.92,490.37Z" fill="#acd488"/>
<path d="M190.77,470.70A72.20,72.20 0 0 1 208.98,465.82L209.39,468.99A69.00,69.00 0 0 0 191.99,473.65Z" fill="#e0f27a"/>
<path d="M190.66,470.43A72.49,72.49 0 0 1 208.94,465.53L208.98,465.82A72.20,72.20 0 0 0 190.77,470.70Z" fill="#ffffb5"/>
<path d="M190.56,470.18A72.76,72.76 0 0 1 208.90,465.26L208.94,465.53A72.49,72.49 0 0 0 190.66,470.43Z" fill="#e8db72"/>
<path d="M190.46,469.96A73.00,73.00 0 0 1 208.87,465.02L208.90,465.26A72.76,72.76 0 0 0 190.56,470.18Z" fill="#d39b45"/>
</g>
<circle cx="218.4" cy="537.4" r="123.3" fill="none" stroke="#303030" stroke-width="1.25"/>
<text x="218.40" y="402.10" font-size="10" text-anchor="middle">0°</text>
<text x="316.62" y="442.78" font-size="10" text-anchor="middle">45°</text>
<text x="357.30" y="541.00" font-size="10" text-anchor="middle">90°</text>
<text x="316.62" y="639.22" font-size="10" text-anchor="middle">135°</text>
<text x="218.40" y="679.90" font-size="10" text-anchor="middle">180°</text>
<text x="120.18" y="639.22" font-size="10" text-anchor="middle">225°</text>
<text x="79.50" y="541.00" font-size="10" text-anchor="middle">270°</text>
<text x="120.18" y="442.78" font-size="10" text-anchor="middle">315°</text>
<path d="M64.3,383.3V691.1H372.2" fill="none" stroke="#2a2a2a" stroke-width="1.6" stroke-linejoin="miter"/>
<line x1="60.699999999999996" y1="537.40" x2="63.5" y2="537.40" stroke="#444" stroke-width="0.8"/>
<text x="58.099999999999994" y="540.40" font-size="8.7" text-anchor="end">0</text>
<line x1="60.699999999999996" y1="516.85" x2="63.5" y2="516.85" stroke="#444" stroke-width="0.8"/>
<text x="58.099999999999994" y="519.85" font-size="8.7" text-anchor="end">0.01</text>
<line x1="60.699999999999996" y1="496.30" x2="63.5" y2="496.30" stroke="#444" stroke-width="0.8"/>
<text x="58.099999999999994" y="499.30" font-size="8.7" text-anchor="end">0.02</text>
<line x1="60.699999999999996" y1="475.75" x2="63.5" y2="475.75" stroke="#444" stroke-width="0.8"/>
<text x="58.099999999999994" y="478.75" font-size="8.7" text-anchor="end">0.03</text>
<line x1="60.699999999999996" y1="455.20" x2="63.5" y2="455.20" stroke="#444" stroke-width="0.8"/>
<text x="58.099999999999994" y="458.20" font-size="8.7" text-anchor="end">0.04</text>
<line x1="60.699999999999996" y1="434.65" x2="63.5" y2="434.65" stroke="#444" stroke-width="0.8"/>
<text x="58.099999999999994" y="437.65" font-size="8.7" text-anchor="end">0.05</text>
<line x1="60.699999999999996" y1="414.10" x2="63.5" y2="414.10" stroke="#444" stroke-width="0.8"/>
<text x="58.099999999999994" y="417.10" font-size="8.7" text-anchor="end">0.06</text>
<text x="64.1" y="374.2" font-size="12">c)</text>
</g>
<g>
<circle cx="606.8" cy="537.0" r="21.35" fill="none" stroke="#d2d2d2" stroke-width="1.0"/>
<circle cx="606.8" cy="537.0" r="42.70" fill="none" stroke="#d2d2d2" stroke-width="1.0"/>
<circle cx="606.8" cy="537.0" r="64.05" fill="none" stroke="#d2d2d2" stroke-width="1.0"/>
<circle cx="606.8" cy="537.0" r="85.40" fill="none" stroke="#d2d2d2" stroke-width="1.0"/>
<circle cx="606.8" cy="537.0" r="106.75" fill="none" stroke="#d2d2d2" stroke-width="1.0"/>
<path d="M606.8,537.0L606.80,408.90M606.8,537.0L639.95,413.26M606.8,537.0L670.85,426.06M606.8,537.0L697.38,446.42M606.8,537.0L717.74,472.95M606.8,537.0L730.54,503.85M606.8,537.0L734.90,537.00M606.8,537.0L730.54,570.15M606.8,537.0L717.74,601.05M606.8,537.0L697.38,627.58M606.8,537.0L670.85,647.94M606.8,537.0L639.95,660.74M606.8,537.0L606.80,665.10M606.8,537.0L573.65,660.74M606.8,537.0L542.75,647.94M606.8,537.0L516.22,627.58M606.8,537.0L495.86,601.05M606.8,537.0L483.06,570.15M606.8,537.0L478.70,537.00M606.8,537.0L483.06,503.85M606.8,537.0L495.86,472.95M606.8,537.0L516.22,446.42M606.8,537.0L542.75,426.06M606.8,537.0L573.65,413.26" stroke="#9c9c9c" stroke-width="1.05" fill="none"/>
<line x1="606.8" y1="537.0" x2="542.75" y2="426.06" stroke="#1a1a1a" stroke-width="1.45" stroke-dasharray="5.4,2.9"/>
<line x1="606.8" y1="537.0" x2="730.54" y2="570.15" stroke="#1a1a1a" stroke-width="1.45" stroke-dasharray="5.4,2.9"/>
<g stroke="#1c1c1c" stroke-opacity="0.7" stroke-width="0.62" stroke-linejoin="miter" fill-opacity="0.8">
<path d="M606.80,537.00L604.26,517.74A19.43,19.43 0 0 1 609.34,517.74Z" fill="#4a63aa"/>
<path d="M596.52,458.92A78.75,78.75 0 0 1 617.08,458.92L609.34,517.74A19.43,19.43 0 0 0 604.26,517.74Z" fill="#73ab86"/>
<path d="M593.91,439.10A98.74,98.74 0 0 1 619.69,439.10L617.08,458.92A78.75,78.75 0 0 0 596.52,458.92Z" fill="#acd488"/>
<path d="M593.00,432.14A105.76,105.76 0 0 1 620.60,432.14L619.69,439.10A98.74,98.74 0 0 0 593.91,439.10Z" fill="#e0f27a"/>
<path d="M592.96,431.85A106.06,106.06 0 0 1 620.64,431.85L620.60,432.14A105.76,105.76 0 0 0 593.00,432.14Z" fill="#ffffb5"/>
<path d="M592.92,431.56A106.34,106.34 0 0 1 620.68,431.56L620.64,431.85A106.06,106.06 0 0 0 592.96,431.85Z" fill="#e8db72"/>
<path d="M592.89,431.32A106.59,106.59 0 0 1 620.71,431.32L620.68,431.56A106.34,106.34 0 0 0 592.92,431.56Z" fill="#d39b45"/>
<path d="M606.80,537.00L609.24,518.46A18.70,18.70 0 0 1 613.96,519.72Z" fill="#4a63aa"/>
<path d="M615.94,467.58A70.02,70.02 0 0 1 633.60,472.31L613.96,519.72A18.70,18.70 0 0 0 609.24,518.46Z" fill="#73ab86"/>
<path d="M618.58,447.55A90.22,90.22 0 0 1 641.33,453.65L633.60,472.31A70.02,70.02 0 0 0 615.94,467.58Z" fill="#acd488"/>
<path d="M619.33,441.82A96.00,96.00 0 0 1 643.54,448.31L641.33,453.65A90.22,90.22 0 0 0 618.58,447.55Z" fill="#e0f27a"/>
<path d="M619.37,441.53A96.30,96.30 0 0 1 643.65,448.03L643.54,448.31A96.00,96.00 0 0 0 619.33,441.82Z" fill="#ffffb5"/>
<path d="M619.41,441.25A96.58,96.58 0 0 1 643.76,447.77L643.65,448.03A96.30,96.30 0 0 0 619.37,441.53Z" fill="#e8db72"/>
<path d="M619.44,441.00A96.83,96.83 0 0 1 643.85,447.54L643.76,447.77A96.58,96.58 0 0 0 619.41,441.25Z" fill="#d39b45"/>
<path d="M606.80,537.00L614.75,517.80A20.78,20.78 0 0 1 619.45,520.52Z" fill="#4a63aa"/>
<path d="M629.18,482.96A58.49,58.49 0 0 1 642.41,490.60L619.45,520.52A20.78,20.78 0 0 0 614.75,517.80Z" fill="#73ab86"/>
<path d="M635.12,468.62A74.01,74.01 0 0 1 651.86,478.28L642.41,490.60A58.49,58.49 0 0 0 629.18,482.96Z" fill="#acd488"/>
<path d="M637.10,463.86A79.17,79.17 0 0 1 654.99,474.19L651.86,478.28A74.01,74.01 0 0 0 635.12,468.62Z" fill="#e0f27a"/>
<path d="M637.21,463.58A79.47,79.47 0 0 1 655.18,473.96L654.99,474.19A79.17,79.17 0 0 0 637.10,463.86Z" fill="#ffffb5"/>
<path d="M637.32,463.32A79.75,79.75 0 0 1 655.35,473.73L655.18,473.96A79.47,79.47 0 0 0 637.21,463.58Z" fill="#e8db72"/>
<path d="M637.41,463.09A80.00,80.00 0 0 1 655.50,473.53L655.35,473.73A79.75,79.75 0 0 0 637.32,463.32Z" fill="#d39b45"/>
<path d="M606.80,537.00L618.82,521.34A19.74,19.74 0 0 1 622.46,524.98Z" fill="#4a63aa"/>
<path d="M642.22,490.84A58.18,58.18 0 0 1 652.96,501.58L622.46,524.98A19.74,19.74 0 0 0 618.82,521.34Z" fill="#73ab86"/>
<path d="M651.67,478.53A73.70,73.70 0 0 1 665.27,492.13L652.96,501.58A58.18,58.18 0 0 0 642.22,490.84Z" fill="#acd488"/>
<path d="M654.36,475.02A78.13,78.13 0 0 1 668.78,489.44L665.27,492.13A73.70,73.70 0 0 0 651.67,478.53Z" fill="#e0f27a"/>
<path d="M654.54,474.78A78.43,78.43 0 0 1 669.02,489.26L668.78,489.44A78.13,78.13 0 0 0 654.36,475.02Z" fill="#ffffb5"/>
<path d="M654.72,474.56A78.71,78.71 0 0 1 669.24,489.08L669.02,489.26A78.43,78.43 0 0 0 654.54,474.78Z" fill="#e8db72"/>
<path d="M654.87,474.36A78.96,78.96 0 0 1 669.44,488.93L669.24,489.08A78.71,78.71 0 0 0 654.72,474.56Z" fill="#d39b45"/>
<path d="M606.80,537.00L620.89,526.18A17.77,17.77 0 0 1 623.21,530.20Z" fill="#4a63aa"/>
<path d="M651.72,502.53A56.62,56.62 0 0 1 659.11,515.33L623.21,530.20A17.77,17.77 0 0 0 620.89,526.18Z" fill="#73ab86"/>
<path d="M662.80,494.03A70.59,70.59 0 0 1 672.01,509.99L659.11,515.33A56.62,56.62 0 0 0 651.72,502.53Z" fill="#acd488"/>
<path d="M665.49,491.97A73.97,73.97 0 0 1 675.14,508.69L672.01,509.99A70.59,70.59 0 0 0 662.80,494.03Z" fill="#e0f27a"/>
<path d="M665.72,491.79A74.27,74.27 0 0 1 675.42,508.58L675.14,508.69A73.97,73.97 0 0 0 665.49,491.97Z" fill="#ffffb5"/>
<path d="M665.95,491.61A74.55,74.55 0 0 1 675.68,508.47L675.42,508.58A74.27,74.27 0 0 0 665.72,491.79Z" fill="#e8db72"/>
<path d="M666.15,491.46A74.80,74.80 0 0 1 675.91,508.37L675.68,508.47A74.55,74.55 0 0 0 665.95,491.61Z" fill="#d39b45"/>
<path d="M606.80,537.00L622.73,530.40A17.25,17.25 0 0 1 623.90,534.75Z" fill="#4a63aa"/>
<path d="M657.38,516.05A54.75,54.75 0 0 1 661.08,529.85L623.90,534.75A17.25,17.25 0 0 0 622.73,530.40Z" fill="#73ab86"/>
<path d="M670.48,510.62A68.92,68.92 0 0 1 675.13,528.00L661.08,529.85A54.75,54.75 0 0 0 657.38,516.05Z" fill="#acd488"/>
<path d="M673.22,509.49A71.89,71.89 0 0 1 678.08,527.62L675.13,528.00A68.92,68.92 0 0 0 670.48,510.62Z" fill="#e0f27a"/>
<path d="M673.50,509.37A72.19,72.19 0 0 1 678.38,527.58L678.08,527.62A71.89,71.89 0 0 0 673.22,509.49Z" fill="#ffffb5"/>
<path d="M673.76,509.26A72.48,72.48 0 0 1 678.66,527.54L678.38,527.58A72.19,72.19 0 0 0 673.50,509.37Z" fill="#e8db72"/>
<path d="M673.99,509.17A72.73,72.73 0 0 1 678.90,527.51L678.66,527.54A72.48,72.48 0 0 0 673.76,509.26Z" fill="#d39b45"/>
<path d="M606.80,537.00L624.21,534.71A17.56,17.56 0 0 1 624.21,539.29Z" fill="#4a63aa"/>
<path d="M663.76,529.50A57.45,57.45 0 0 1 663.76,544.50L624.21,539.29A17.56,17.56 0 0 0 624.21,534.71Z" fill="#73ab86"/>
<path d="M678.49,527.56A72.31,72.31 0 0 1 678.49,546.44L663.76,544.50A57.45,57.45 0 0 0 663.76,529.50Z" fill="#acd488"/>
<path d="M679.93,527.37A73.76,73.76 0 0 1 679.93,546.63L678.49,546.44A72.31,72.31 0 0 0 678.49,527.56Z" fill="#e0f27a"/>
<path d="M680.23,527.33A74.06,74.06 0 0 1 680.23,546.67L679.93,546.63A73.76,73.76 0 0 0 679.93,527.37Z" fill="#ffffb5"/>
<path d="M680.51,527.30A74.35,74.35 0 0 1 680.51,546.70L680.23,546.67A74.06,74.06 0 0 0 680.23,527.33Z" fill="#e8db72"/>
<path d="M680.76,527.26A74.60,74.60 0 0 1 680.76,546.74L680.51,546.70A74.35,74.35 0 0 0 680.51,527.30Z" fill="#d39b45"/>
<path d="M606.80,537.00L624.83,539.37A18.18,18.18 0 0 1 623.60,543.96Z" fill="#4a63aa"/>
<path d="M664.17,544.55A57.87,57.87 0 0 1 660.26,559.15L623.60,543.96A18.18,18.18 0 0 0 624.83,539.37Z" fill="#73ab86"/>
<path d="M676.64,546.19A70.44,70.44 0 0 1 671.88,563.96L660.26,559.15A57.87,57.87 0 0 0 664.17,544.55Z" fill="#acd488"/>
<path d="M677.36,546.29A71.17,71.17 0 0 1 672.55,564.23L671.88,563.96A70.44,70.44 0 0 0 676.64,546.19Z" fill="#e0f27a"/>
<path d="M677.65,546.33A71.47,71.47 0 0 1 672.83,564.35L672.55,564.23A71.17,71.17 0 0 0 677.36,546.29Z" fill="#ffffb5"/>
<path d="M677.93,546.37A71.75,71.75 0 0 1 673.09,564.46L672.83,564.35A71.47,71.47 0 0 0 677.65,546.33Z" fill="#e8db72"/>
<path d="M678.18,546.40A72.00,72.00 0 0 1 673.32,564.55L673.09,564.46A71.75,71.75 0 0 0 677.93,546.37Z" fill="#d39b45"/>
<path d="M606.80,537.00L624.08,544.16A18.70,18.70 0 0 1 621.64,548.38Z" fill="#4a63aa"/>
<path d="M664.29,560.82A62.23,62.23 0 0 1 656.17,574.88L621.64,548.38A18.70,18.70 0 0 0 624.08,544.16Z" fill="#73ab86"/>
<path d="M674.47,565.03A73.24,73.24 0 0 1 664.91,581.59L656.17,574.88A62.23,62.23 0 0 0 664.29,560.82Z" fill="#acd488"/>
<path d="M675.52,565.47A74.39,74.39 0 0 1 665.82,582.28L664.91,581.59A73.24,73.24 0 0 0 674.47,565.03Z" fill="#e0f27a"/>
<path d="M675.80,565.58A74.69,74.69 0 0 1 666.05,582.47L665.82,582.28A74.39,74.39 0 0 0 675.52,565.47Z" fill="#ffffb5"/>
<path d="M676.06,565.69A74.97,74.97 0 0 1 666.28,582.64L666.05,582.47A74.69,74.69 0 0 0 675.80,565.58Z" fill="#e8db72"/>
<path d="M676.29,565.78A75.22,75.22 0 0 1 666.47,582.79L666.28,582.64A74.97,74.97 0 0 0 676.06,565.69Z" fill="#d39b45"/>
<path d="M606.80,537.00L621.31,548.13A18.29,18.29 0 0 1 617.93,551.51Z" fill="#4a63aa"/>
<path d="M654.28,573.43A59.84,59.84 0 0 1 643.23,584.48L617.93,551.51A18.29,18.29 0 0 0 621.31,548.13Z" fill="#73ab86"/>
<path d="M671.45,586.61A81.49,81.49 0 0 1 656.41,601.65L643.23,584.48A59.84,59.84 0 0 0 654.28,573.43Z" fill="#acd488"/>
<path d="M675.38,589.62A86.44,86.44 0 0 1 659.42,605.58L656.41,601.65A81.49,81.49 0 0 0 671.45,586.61Z" fill="#e0f27a"/>
<path d="M675.61,589.80A86.74,86.74 0 0 1 659.60,605.81L659.42,605.58A86.44,86.44 0 0 0 675.38,589.62Z" fill="#ffffb5"/>
<path d="M675.84,589.97A87.02,87.02 0 0 1 659.77,606.04L659.60,605.81A86.74,86.74 0 0 0 675.61,589.80Z" fill="#e8db72"/>
<path d="M676.04,590.13A87.27,87.27 0 0 1 659.93,606.24L659.77,606.04A87.02,87.02 0 0 0 675.84,589.97Z" fill="#d39b45"/>
<path d="M606.80,537.00L618.88,552.74A19.84,19.84 0 0 1 614.39,555.33Z" fill="#4a63aa"/>
<path d="M642.85,583.98A59.22,59.22 0 0 1 629.46,591.71L614.39,555.33A19.84,19.84 0 0 0 618.88,552.74Z" fill="#73ab86"/>
<path d="M656.41,601.65A81.49,81.49 0 0 1 637.99,612.29L629.46,591.71A59.22,59.22 0 0 0 642.85,583.98Z" fill="#acd488"/>
<path d="M659.93,606.24A87.27,87.27 0 0 1 640.20,617.63L637.99,612.29A81.49,81.49 0 0 0 656.41,601.65Z" fill="#e0f27a"/>
<path d="M660.11,606.47A87.57,87.57 0 0 1 640.31,617.90L640.20,617.63A87.27,87.27 0 0 0 659.93,606.24Z" fill="#ffffb5"/>
<path d="M660.28,606.70A87.85,87.85 0 0 1 640.42,618.16L640.31,617.90A87.57,87.57 0 0 0 660.11,606.47Z" fill="#e8db72"/>
<path d="M660.43,606.90A88.10,88.10 0 0 1 640.51,618.39L640.42,618.16A87.85,87.85 0 0 0 660.28,606.70Z" fill="#d39b45"/>
<path d="M606.80,537.00L614.31,555.14A19.64,19.64 0 0 1 609.36,556.47Z" fill="#4a63aa"/>
<path d="M628.79,590.08A57.45,57.45 0 0 1 614.30,593.96L609.36,556.47A19.64,19.64 0 0 0 614.31,555.14Z" fill="#73ab86"/>
<path d="M636.60,608.93A77.86,77.86 0 0 1 616.96,614.19L614.30,593.96A57.45,57.45 0 0 0 628.79,590.08Z" fill="#acd488"/>
<path d="M638.49,613.50A82.80,82.80 0 0 1 617.61,619.09L616.96,614.19A77.86,77.86 0 0 0 636.60,608.93Z" fill="#e0f27a"/>
<path d="M638.60,613.78A83.10,83.10 0 0 1 617.65,619.39L617.61,619.09A82.80,82.80 0 0 0 638.49,613.50Z" fill="#ffffb5"/>
<path d="M638.71,614.04A83.38,83.38 0 0 1 617.68,619.67L617.65,619.39A83.10,83.10 0 0 0 638.60,613.78Z" fill="#e8db72"/>
<path d="M638.81,614.27A83.63,83.63 0 0 1 617.72,619.92L617.68,619.67A83.38,83.38 0 0 0 638.71,614.04Z" fill="#d39b45"/>
<path d="M606.80,537.00L608.97,553.48A16.62,16.62 0 0 1 604.63,553.48Z" fill="#4a63aa"/>
<path d="M614.20,593.24A56.73,56.73 0 0 1 599.40,593.24L604.63,553.48A16.62,16.62 0 0 0 608.97,553.48Z" fill="#73ab86"/>
<path d="M617.51,618.31A82.01,82.01 0 0 1 596.09,618.31L599.40,593.24A56.73,56.73 0 0 0 614.20,593.24Z" fill="#acd488"/>
<path d="M618.39,625.07A88.83,88.83 0 0 1 595.21,625.07L596.09,618.31A82.01,82.01 0 0 0 617.51,618.31Z" fill="#e0f27a"/>
<path d="M618.43,625.37A89.13,89.13 0 0 1 595.17,625.37L595.21,625.07A88.83,88.83 0 0 0 618.39,625.07Z" fill="#ffffb5"/>
<path d="M618.47,625.65A89.41,89.41 0 0 1 595.13,625.65L595.17,625.37A89.13,89.13 0 0 0 618.43,625.37Z" fill="#e8db72"/>
<path d="M618.50,625.89A89.66,89.66 0 0 1 595.10,625.89L595.13,625.65A89.41,89.41 0 0 0 618.47,625.65Z" fill="#d39b45"/>
<path d="M606.80,537.00L604.70,552.97A16.10,16.10 0 0 1 600.64,551.88Z" fill="#4a63aa"/>
<path d="M598.12,602.92A66.49,66.49 0 0 1 581.35,598.43L600.64,551.88A16.10,16.10 0 0 0 604.70,552.97Z" fill="#73ab86"/>
<path d="M593.04,641.49A105.39,105.39 0 0 1 566.47,634.37L581.35,598.43A66.49,66.49 0 0 0 598.12,602.92Z" fill="#acd488"/>
<path d="M592.20,647.91A111.87,111.87 0 0 1 563.99,640.35L566.47,634.37A105.39,105.39 0 0 0 593.04,641.49Z" fill="#e0f27a"/>
<path d="M592.16,648.21A112.16,112.16 0 0 1 563.88,640.63L563.99,640.35A111.87,111.87 0 0 0 592.20,647.91Z" fill="#ffffb5"/>
<path d="M592.12,648.49A112.45,112.45 0 0 1 563.77,640.89L563.88,640.63A112.16,112.16 0 0 0 592.16,648.21Z" fill="#e8db72"/>
<path d="M592.09,648.73A112.70,112.70 0 0 1 563.67,641.12L563.77,640.89A112.45,112.45 0 0 0 592.12,648.49Z" fill="#d39b45"/>
<path d="M606.80,537.00L600.72,551.69A15.90,15.90 0 0 1 597.12,549.61Z" fill="#4a63aa"/>
<path d="M582.27,596.22A64.10,64.10 0 0 1 567.78,587.86L597.12,549.61A15.90,15.90 0 0 0 600.72,551.69Z" fill="#73ab86"/>
<path d="M567.34,632.26A103.10,103.10 0 0 1 544.03,618.80L567.78,587.86A64.10,64.10 0 0 0 582.27,596.22Z" fill="#acd488"/>
<path d="M565.25,637.30A108.57,108.57 0 0 1 540.71,623.13L544.03,618.80A103.10,103.10 0 0 0 567.34,632.26Z" fill="#e0f27a"/>
<path d="M565.14,637.58A108.87,108.87 0 0 1 540.53,623.37L540.71,623.13A108.57,108.57 0 0 0 565.25,637.30Z" fill="#ffffb5"/>
<path d="M565.03,637.84A109.15,109.15 0 0 1 540.35,623.59L540.53,623.37A108.87,108.87 0 0 0 565.14,637.58Z" fill="#e8db72"/>
<path d="M564.93,638.07A109.40,109.40 0 0 1 540.20,623.79L540.35,623.59A109.15,109.15 0 0 0 565.03,637.84Z" fill="#d39b45"/>
<path d="M606.80,537.00L598.39,547.96A13.82,13.82 0 0 1 595.84,545.41Z" fill="#4a63aa"/>
<path d="M568.79,586.54A62.44,62.44 0 0 1 557.26,575.01L595.84,545.41A13.82,13.82 0 0 0 598.39,547.96Z" fill="#73ab86"/>
<path d="M551.18,609.48A91.36,91.36 0 0 1 534.32,592.62L557.26,575.01A62.44,62.44 0 0 0 568.79,586.54Z" fill="#acd488"/>
<path d="M548.99,612.34A94.96,94.96 0 0 1 531.46,594.81L534.32,592.62A91.36,91.36 0 0 0 551.18,609.48Z" fill="#e0f27a"/>
<path d="M548.81,612.57A95.26,95.26 0 0 1 531.23,594.99L531.46,594.81A94.96,94.96 0 0 0 548.99,612.34Z" fill="#ffffb5"/>
<path d="M548.64,612.80A95.54,95.54 0 0 1 531.00,595.16L531.23,594.99A95.26,95.26 0 0 0 548.81,612.57Z" fill="#e8db72"/>
<path d="M548.49,612.99A95.79,95.79 0 0 1 530.81,595.31L531.00,595.16A95.54,95.54 0 0 0 548.64,612.80Z" fill="#d39b45"/>
<path d="M606.80,537.00L596.08,545.22A13.51,13.51 0 0 1 594.32,542.17Z" fill="#4a63aa"/>
<path d="M557.59,574.76A62.02,62.02 0 0 1 549.50,560.74L594.32,542.17A13.51,13.51 0 0 0 596.08,545.22Z" fill="#73ab86"/>
<path d="M525.91,599.07A101.96,101.96 0 0 1 512.60,576.02L549.50,560.74A62.02,62.02 0 0 0 557.59,574.76Z" fill="#acd488"/>
<path d="M521.33,602.59A107.74,107.74 0 0 1 507.26,578.23L512.60,576.02A101.96,101.96 0 0 0 525.91,599.07Z" fill="#e0f27a"/>
<path d="M521.09,602.77A108.04,108.04 0 0 1 506.99,578.34L507.26,578.23A107.74,107.74 0 0 0 521.33,602.59Z" fill="#ffffb5"/>
<path d="M520.86,602.94A108.32,108.32 0 0 1 506.73,578.45L506.99,578.34A108.04,108.04 0 0 0 521.09,602.77Z" fill="#e8db72"/>
<path d="M520.67,603.09A108.57,108.57 0 0 1 506.50,578.55L506.73,578.45A108.32,108.32 0 0 0 520.86,602.94Z" fill="#d39b45"/>
<path d="M606.80,537.00L595.67,541.61A12.05,12.05 0 0 1 594.85,538.57Z" fill="#4a63aa"/>
<path d="M549.21,560.85A62.34,62.34 0 0 1 545.00,545.14L594.85,538.57A12.05,12.05 0 0 0 595.67,541.61Z" fill="#73ab86"/>
<path d="M511.74,576.38A102.90,102.90 0 0 1 504.78,550.43L545.00,545.14A62.34,62.34 0 0 0 549.21,560.85Z" fill="#acd488"/>
<path d="M505.06,579.14A110.13,110.13 0 0 1 497.62,551.37L504.78,550.43A102.90,102.90 0 0 0 511.74,576.38Z" fill="#e0f27a"/>
<path d="M504.78,579.26A110.43,110.43 0 0 1 497.32,551.41L497.62,551.37A110.13,110.13 0 0 0 505.06,579.14Z" fill="#ffffb5"/>
<path d="M504.52,579.37A110.71,110.71 0 0 1 497.04,551.45L497.32,551.41A110.43,110.43 0 0 0 504.78,579.26Z" fill="#e8db72"/>
<path d="M504.29,579.46A110.96,110.96 0 0 1 496.79,551.48L497.04,551.45A110.71,110.71 0 0 0 504.52,579.37Z" fill="#d39b45"/>
<path d="M606.80,537.00L594.65,538.60A12.26,12.26 0 0 1 594.65,535.40Z" fill="#4a63aa"/>
<path d="M545.20,545.11A62.13,62.13 0 0 1 545.20,528.89L594.65,535.40A12.26,12.26 0 0 0 594.65,538.60Z" fill="#73ab86"/>
<path d="M512.51,549.41A95.10,95.10 0 0 1 512.51,524.59L545.20,528.89A62.13,62.13 0 0 0 545.20,545.11Z" fill="#acd488"/>
<path d="M503.93,550.54A103.76,103.76 0 0 1 503.93,523.46L512.51,524.59A95.10,95.10 0 0 0 512.51,549.41Z" fill="#e0f27a"/>
<path d="M503.63,550.58A104.06,104.06 0 0 1 503.63,523.42L503.93,523.46A103.76,103.76 0 0 0 503.93,550.54Z" fill="#ffffb5"/>
<path d="M503.35,550.62A104.34,104.34 0 0 1 503.35,523.38L503.63,523.42A104.06,104.06 0 0 0 503.63,550.58Z" fill="#e8db72"/>
<path d="M503.10,550.65A104.59,104.59 0 0 1 503.10,523.35L503.35,523.38A104.34,104.34 0 0 0 503.35,550.62Z" fill="#d39b45"/>
<path d="M606.80,537.00L594.23,535.35A12.67,12.67 0 0 1 595.09,532.15Z" fill="#4a63aa"/>
<path d="M547.06,529.13A60.26,60.26 0 0 1 551.13,513.94L595.09,532.15A12.67,12.67 0 0 0 594.23,535.35Z" fill="#73ab86"/>
<path d="M517.97,525.31A89.60,89.60 0 0 1 524.02,502.71L551.13,513.94A60.26,60.26 0 0 0 547.06,529.13Z" fill="#acd488"/>
<path d="M511.32,524.43A96.31,96.31 0 0 1 517.82,500.14L524.02,502.71A89.60,89.60 0 0 0 517.97,525.31Z" fill="#e0f27a"/>
<path d="M511.02,524.39A96.61,96.61 0 0 1 517.55,500.03L517.82,500.14A96.31,96.31 0 0 0 511.32,524.43Z" fill="#ffffb5"/>
<path d="M510.74,524.35A96.89,96.89 0 0 1 517.28,499.92L517.55,500.03A96.61,96.61 0 0 0 511.02,524.39Z" fill="#e8db72"/>
<path d="M510.49,524.32A97.14,97.14 0 0 1 517.05,499.83L517.28,499.92A96.89,96.89 0 0 0 510.74,524.35Z" fill="#d39b45"/>
<path d="M606.80,537.00L595.09,532.15A12.67,12.67 0 0 1 596.74,529.28Z" fill="#4a63aa"/>
<path d="M554.97,515.53A56.10,56.10 0 0 1 562.29,502.85L596.74,529.28A12.67,12.67 0 0 0 595.09,532.15Z" fill="#73ab86"/>
<path d="M537.84,508.44A74.64,74.64 0 0 1 547.59,491.56L562.29,502.85A56.10,56.10 0 0 0 554.97,515.53Z" fill="#acd488"/>
<path d="M533.37,506.59A79.48,79.48 0 0 1 543.75,488.62L547.59,491.56A74.64,74.64 0 0 0 537.84,508.44Z" fill="#e0f27a"/>
<path d="M533.10,506.47A79.78,79.78 0 0 1 543.51,488.43L543.75,488.62A79.48,79.48 0 0 0 533.37,506.59Z" fill="#ffffb5"/>
<path d="M532.83,506.36A80.06,80.06 0 0 1 543.28,488.26L543.51,488.43A79.78,79.78 0 0 0 533.10,506.47Z" fill="#e8db72"/>
<path d="M532.60,506.27A80.31,80.31 0 0 1 543.09,488.11L543.28,488.26A80.06,80.06 0 0 0 532.83,506.36Z" fill="#d39b45"/>
<path d="M606.80,537.00L596.17,528.84A13.40,13.40 0 0 1 598.64,526.37Z" fill="#4a63aa"/>
<path d="M566.66,506.20A50.60,50.60 0 0 1 576.00,496.86L598.64,526.37A13.40,13.40 0 0 0 596.17,528.84Z" fill="#73ab86"/>
<path d="M555.75,497.82A64.35,64.35 0 0 1 567.62,485.95L576.00,496.86A50.60,50.60 0 0 0 566.66,506.20Z" fill="#acd488"/>
<path d="M553.22,495.89A67.53,67.53 0 0 1 565.69,483.42L567.62,485.95A64.35,64.35 0 0 0 555.75,497.82Z" fill="#e0f27a"/>
<path d="M552.99,495.71A67.83,67.83 0 0 1 565.51,483.19L565.69,483.42A67.53,67.53 0 0 0 553.22,495.89Z" fill="#ffffb5"/>
<path d="M552.76,495.54A68.11,68.11 0 0 1 565.34,482.96L565.51,483.19A67.83,67.83 0 0 0 552.99,495.71Z" fill="#e8db72"/>
<path d="M552.57,495.38A68.36,68.36 0 0 1 565.18,482.77L565.34,482.96A68.11,68.11 0 0 0 552.76,495.54Z" fill="#d39b45"/>
<path d="M606.80,537.00L596.55,523.65A16.83,16.83 0 0 1 600.36,521.45Z" fill="#4a63aa"/>
<path d="M575.18,495.79A51.95,51.95 0 0 1 586.92,489.01L600.36,521.45A16.83,16.83 0 0 0 596.55,523.65Z" fill="#73ab86"/>
<path d="M563.64,480.75A70.90,70.90 0 0 1 579.67,471.50L586.92,489.01A51.95,51.95 0 0 0 575.18,495.79Z" fill="#acd488"/>
<path d="M561.14,477.49A75.01,75.01 0 0 1 578.09,467.70L579.67,471.50A70.90,70.90 0 0 0 563.64,480.75Z" fill="#e0f27a"/>
<path d="M560.95,477.25A75.31,75.31 0 0 1 577.98,467.42L578.09,467.70A75.01,75.01 0 0 0 561.14,477.49Z" fill="#ffffb5"/>
<path d="M560.78,477.03A75.59,75.59 0 0 1 577.87,467.16L577.98,467.42A75.31,75.31 0 0 0 560.95,477.25Z" fill="#e8db72"/>
<path d="M560.63,476.83A75.84,75.84 0 0 1 577.78,466.93L577.87,467.16A75.59,75.59 0 0 0 560.78,477.03Z" fill="#d39b45"/>
<path d="M606.80,537.00L599.64,519.72A18.70,18.70 0 0 1 604.36,518.46Z" fill="#4a63aa"/>
<path d="M586.56,488.14A52.88,52.88 0 0 1 599.90,484.57L604.36,518.46A18.70,18.70 0 0 0 599.64,519.72Z" fill="#73ab86"/>
<path d="M579.79,471.79A70.59,70.59 0 0 1 597.59,467.02L599.90,484.57A52.88,52.88 0 0 0 586.56,488.14Z" fill="#acd488"/>
<path d="M578.09,467.70A75.01,75.01 0 0 1 597.01,462.63L597.59,467.02A70.59,70.59 0 0 0 579.79,471.79Z" fill="#e0f27a"/>
<path d="M577.98,467.42A75.31,75.31 0 0 1 596.97,462.33L597.01,462.63A75.01,75.01 0 0 0 578.09,467.70Z" fill="#ffffb5"/>
<path d="M577.87,467.16A75.59,75.59 0 0 1 596.93,462.05L596.97,462.33A75.31,75.31 0 0 0 577.98,467.42Z" fill="#e8db72"/>
<path d="M577.78,466.93A75.84,75.84 0 0 1 596.90,461.81L596.93,462.05A75.59,75.59 0 0 0 577.87,467.16Z" fill="#d39b45"/>
</g>
<circle cx="606.8" cy="537.0" r="128.1" fill="none" stroke="#303030" stroke-width="1.25"/>
<text x="606.80" y="396.90" font-size="10" text-anchor="middle">0°</text>
<text x="708.41" y="438.99" font-size="10" text-anchor="middle">45°</text>
<text x="750.50" y="540.60" font-size="10" text-anchor="middle">90°</text>
<text x="708.41" y="642.21" font-size="10" text-anchor="middle">135°</text>
<text x="606.80" y="684.30" font-size="10" text-anchor="middle">180°</text>
<text x="505.19" y="642.21" font-size="10" text-anchor="middle">225°</text>
<text x="463.10" y="540.60" font-size="10" text-anchor="middle">270°</text>
<text x="505.19" y="438.99" font-size="10" text-anchor="middle">315°</text>
<path d="M446.7,377.1V697.2H767.0" fill="none" stroke="#2a2a2a" stroke-width="1.6" stroke-linejoin="miter"/>
<line x1="443.09999999999997" y1="537.00" x2="445.9" y2="537.00" stroke="#444" stroke-width="0.8"/>
<text x="440.5" y="540.00" font-size="8.7" text-anchor="end">0</text>
<line x1="443.09999999999997" y1="515.65" x2="445.9" y2="515.65" stroke="#444" stroke-width="0.8"/>
<text x="440.5" y="518.65" font-size="8.7" text-anchor="end">0.01</text>
<line x1="443.09999999999997" y1="494.30" x2="445.9" y2="494.30" stroke="#444" stroke-width="0.8"/>
<text x="440.5" y="497.30" font-size="8.7" text-anchor="end">0.02</text>
<line x1="443.09999999999997" y1="472.95" x2="445.9" y2="472.95" stroke="#444" stroke-width="0.8"/>
<text x="440.5" y="475.95" font-size="8.7" text-anchor="end">0.03</text>
<line x1="443.09999999999997" y1="451.60" x2="445.9" y2="451.60" stroke="#444" stroke-width="0.8"/>
<text x="440.5" y="454.60" font-size="8.7" text-anchor="end">0.04</text>
<line x1="443.09999999999997" y1="430.25" x2="445.9" y2="430.25" stroke="#444" stroke-width="0.8"/>
<text x="440.5" y="433.25" font-size="8.7" text-anchor="end">0.05</text>
<line x1="443.09999999999997" y1="408.90" x2="445.9" y2="408.90" stroke="#444" stroke-width="0.8"/>
<text x="440.5" y="411.90" font-size="8.7" text-anchor="end">0.06</text>
<text x="446.5" y="368.2" font-size="12">d)</text>
</g>
<text x="733" y="368.6" font-size="10">Speed (m/s)</text>
<rect x="733.2" y="374.30" width="7.0" height="9.32" fill="#6e82bb" stroke="#555" stroke-opacity="0.35" stroke-width="0.4"/>
<text x="745.4" y="382.26" font-size="9">&lt;3</text>
<rect x="733.2" y="383.62" width="7.0" height="9.32" fill="#8fbc9e" stroke="#555" stroke-opacity="0.35" stroke-width="0.4"/>
<text x="745.4" y="391.58" font-size="9">3-6</text>
<rect x="733.2" y="392.94" width="7.0" height="9.32" fill="#bddda0" stroke="#555" stroke-opacity="0.35" stroke-width="0.4"/>
<text x="745.4" y="400.90" font-size="9">6-9</text>
<rect x="733.2" y="402.26" width="7.0" height="9.32" fill="#e6f595" stroke="#555" stroke-opacity="0.35" stroke-width="0.4"/>
<text x="745.4" y="410.22" font-size="9">9-12</text>
<rect x="733.2" y="411.58" width="7.0" height="9.32" fill="#ffffc4" stroke="#555" stroke-opacity="0.35" stroke-width="0.4"/>
<text x="745.4" y="419.54" font-size="9">12-15</text>
<rect x="733.2" y="420.90" width="7.0" height="9.32" fill="#ede28e" stroke="#555" stroke-opacity="0.35" stroke-width="0.4"/>
<text x="745.4" y="428.86" font-size="9">15-18</text>
<rect x="733.2" y="430.22" width="7.0" height="9.32" fill="#dcaf6a" stroke="#555" stroke-opacity="0.35" stroke-width="0.4"/>
<text x="745.4" y="438.18" font-size="9">18-21</text>
<rect x="733.2" y="439.54" width="7.0" height="9.32" fill="#b87555" stroke="#555" stroke-opacity="0.35" stroke-width="0.4"/>
<text x="745.4" y="447.50" font-size="9">21-24</text>
<rect x="733.2" y="448.86" width="7.0" height="9.32" fill="#924f5f" stroke="#555" stroke-opacity="0.35" stroke-width="0.4"/>
<text x="745.4" y="456.82" font-size="9">&gt;24</text>
<text x="399.7" y="726.9" font-size="13.55" text-anchor="middle">Wind Direction (°)</text>
<text transform="translate(11.5,367.7) rotate(-90)" font-size="13.7" text-anchor="middle">Frequency (% of total hours)</text>
</svg></body></html>
